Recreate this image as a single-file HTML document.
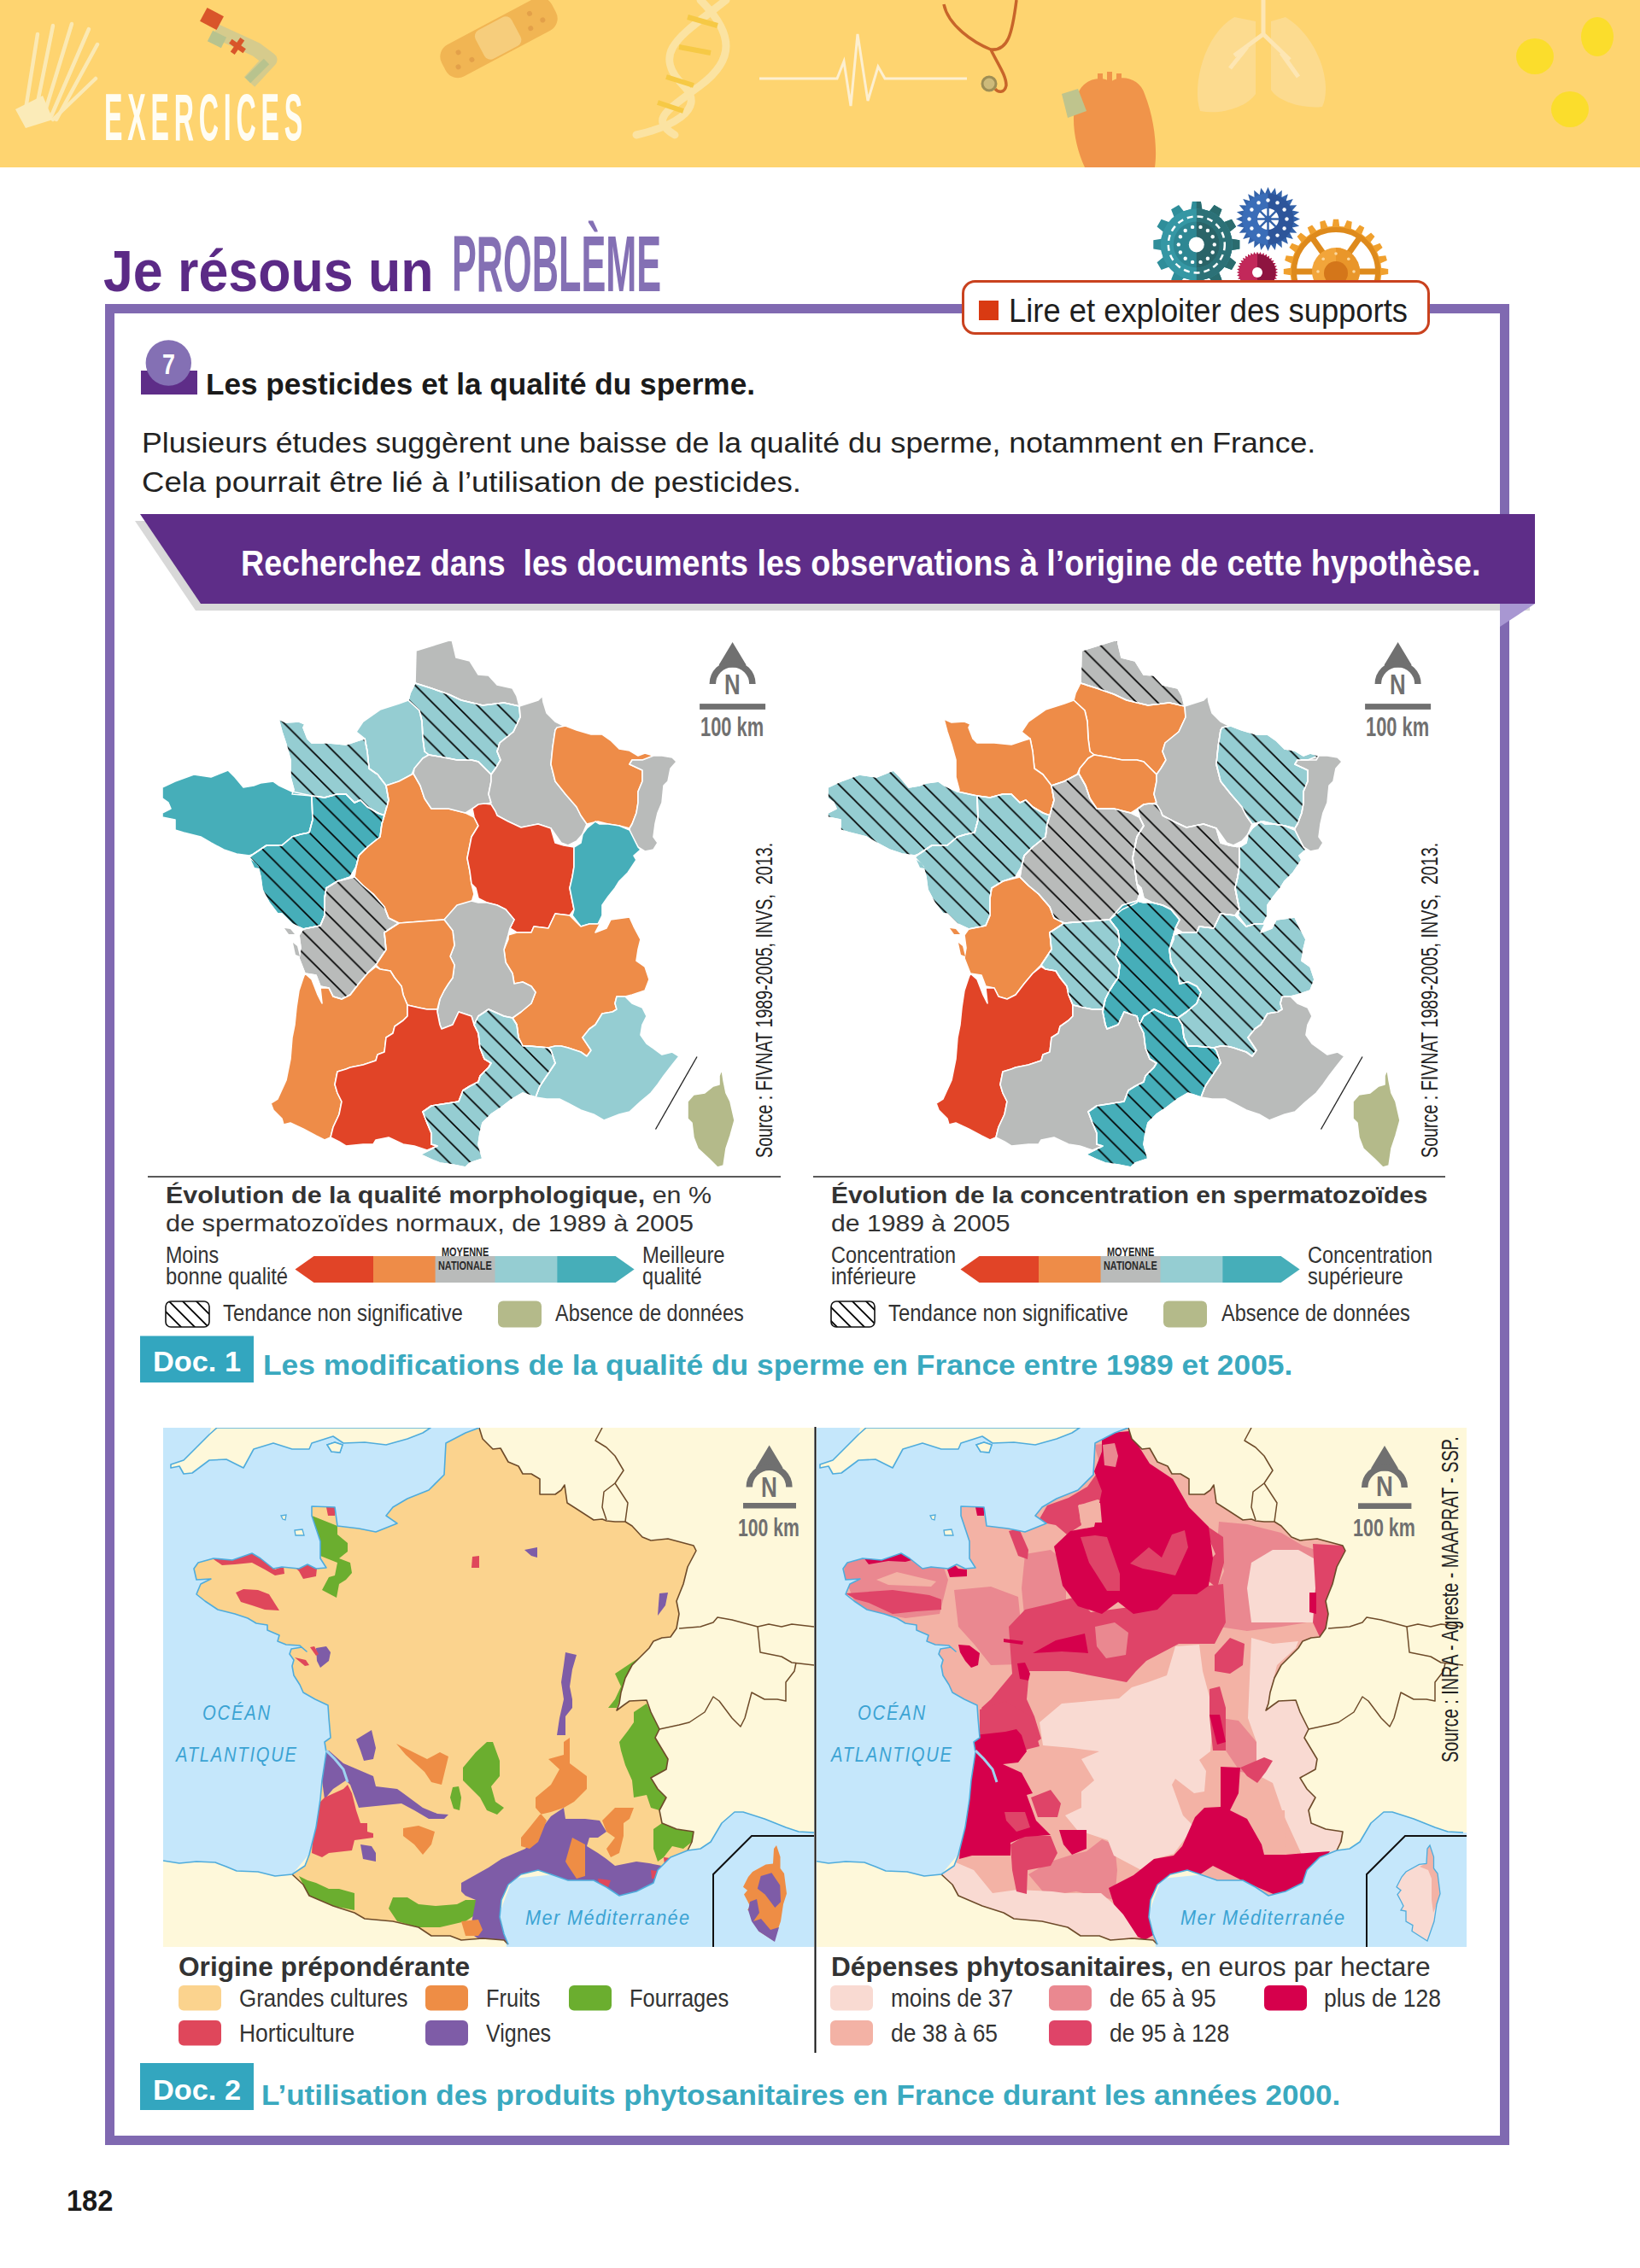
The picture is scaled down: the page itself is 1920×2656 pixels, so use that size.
<!DOCTYPE html><html><head><meta charset="utf-8"><style>
*{margin:0;padding:0;box-sizing:border-box}html,body{width:1920px;height:2656px;overflow:hidden;background:#fff}
body{position:relative;font-family:"Liberation Sans", sans-serif}
.t{position:absolute;white-space:nowrap;line-height:1;transform-origin:0 0}
.t span{display:inline-block}
.r{position:absolute;white-space:nowrap;line-height:1;transform-origin:0 0}
svg{position:absolute;left:0;top:0}
</style></head><body>
<svg width="1920" height="2656" viewBox="0 0 1920 2656">
<defs>
<pattern id="h1" patternUnits="userSpaceOnUse" width="24.7" height="24.7" patternTransform="translate(4.5,0)"><path d="M-3,-3 L27.7,27.7 M-3,21.7 L3,27.7 M21.7,-3 L27.7,3" stroke="#000" stroke-width="1.6"/></pattern>
<pattern id="h2" patternUnits="userSpaceOnUse" width="24.7" height="24.7" patternTransform="translate(14,0)"><path d="M-3,-3 L27.7,27.7 M-3,21.7 L3,27.7 M21.7,-3 L27.7,3" stroke="#000" stroke-width="1.6"/></pattern>
<pattern id="hl" patternUnits="userSpaceOnUse" width="16" height="16" patternTransform="translate(2,0)"><path d="M-2,-2 L18,18 M-2,14 L2,18 M14,-2 L18,2" stroke="#000" stroke-width="1.8"/></pattern>
<clipPath id="cm3"><rect x="191" y="1672" width="762" height="608"/></clipPath>
<clipPath id="cm4"><rect x="956" y="1672" width="761" height="608"/></clipPath>
</defs>
<rect x="0" y="0" width="1920" height="196" fill="#FED470"/>
<g stroke="#FBEBB8" stroke-width="4.5" stroke-linecap="round" fill="none" opacity="0.95">
<line x1="30" y1="128" x2="44" y2="40"/>
<line x1="42" y1="130" x2="62" y2="30"/>
<line x1="52" y1="133" x2="84" y2="28"/>
<line x1="60" y1="136" x2="104" y2="34"/>
<line x1="66" y1="140" x2="114" y2="52"/>
<line x1="62" y1="140" x2="112" y2="92"/>
</g>
<polygon points="18,128 50,112 62,140 30,150" fill="#FBEBB8"/>
<path d="M252,36 L300,58 L316,70 L292,96" fill="none" stroke="#D6CB8C" stroke-width="17" stroke-linejoin="round"/>
<path d="M246,42 L262,50" fill="none" stroke="#B8C38E" stroke-width="14"/>
<path d="M312,72 L290,94" fill="none" stroke="#B8C38E" stroke-width="9"/>
<g transform="translate(248,22) rotate(28)"><rect x="-11" y="-9" width="22" height="18" fill="#D9552A"/></g>
<g transform="translate(278,54) rotate(35)" fill="#D9552A"><rect x="-3" y="-10" width="6" height="20"/><rect x="-10" y="-3" width="20" height="6"/></g>
<g transform="translate(584,44) rotate(-28)"><rect x="-73" y="-21" width="146" height="42" rx="16" fill="#F1B553"/><rect x="-25" y="-19" width="48" height="38" rx="8" fill="#F6CD7C"/><g fill="#E3A049"><circle cx="-50" cy="-7" r="3"/><circle cx="-40" cy="8" r="3"/><circle cx="-58" cy="8" r="3"/><circle cx="45" cy="-8" r="3"/><circle cx="55" cy="6" r="3"/><circle cx="38" cy="8" r="3"/></g></g>
<g fill="none" stroke="#FBE3A2" stroke-width="9" stroke-linecap="round">
<path d="M850,0 C800,40 760,60 800,100 C830,130 780,150 745,158"/>
<path d="M820,0 C860,40 860,70 820,100 C780,130 760,140 790,158"/>
</g>
<g stroke="#F6C945" stroke-width="6"><line x1="805" y1="20" x2="840" y2="30"/><line x1="795" y1="55" x2="832" y2="62"/><line x1="780" y1="90" x2="812" y2="100"/><line x1="770" y1="120" x2="800" y2="130"/></g>
<polyline points="889,92 980,92 988,72 996,124 1004,40 1016,118 1028,78 1036,92 1132,92" fill="none" stroke="#FDEFD0" stroke-width="3"/>
<path d="M1105,5 C1110,30 1140,50 1160,58 C1180,60 1185,40 1190,0 M1160,58 C1168,75 1178,88 1178,100 C1176,110 1168,108 1165,104" fill="none" stroke="#C8652A" stroke-width="3.5"/>
<circle cx="1158" cy="98" r="8" fill="#CDBA7A" stroke="#9E8E55" stroke-width="3"/>
<path d="M1262,110 C1268,92 1290,88 1300,96 C1312,86 1335,92 1340,110 C1352,140 1355,175 1352,196 L1270,196 C1258,170 1252,135 1262,110 Z" fill="#F0944A"/>
<polygon points="1243,110 1262,104 1272,130 1250,138" fill="#BFC48D"/>
<g fill="#F0944A"><rect x="1285" y="86" width="6" height="14"/><rect x="1296" y="84" width="6" height="14"/><rect x="1307" y="86" width="6" height="14"/></g>
<path d="M1445,20 C1410,40 1395,100 1405,130 C1430,135 1460,125 1470,110 L1470,25 Z" fill="#FCDB8F"/>
<path d="M1505,20 C1545,45 1560,100 1548,125 C1525,128 1495,118 1488,105 L1488,25 Z" fill="#FCDB8F"/>
<path d="M1479,0 L1479,40 M1479,40 L1445,65 M1479,40 L1510,70 M1460,55 L1440,80 M1500,62 L1520,90" stroke="#FDE6B3" stroke-width="5" fill="none"/>
<g fill="#FBDD2C"><ellipse cx="1797" cy="66" rx="22" ry="21"/><ellipse cx="1870" cy="43" rx="19" ry="23"/><ellipse cx="1838" cy="128" rx="22" ry="21"/></g>
<polygon points="1617.1,313.8 1625.2,314.9 1625.2,321.1 1617.1,322.2 1616.4,327.7 1623.9,330.9 1622.3,336.8 1614.2,335.8 1612.1,340.9 1618.6,345.9 1615.5,351.3 1607.9,348.2 1604.6,352.6 1609.5,359.1 1605.1,363.5 1598.6,358.6 1594.2,361.9 1597.3,369.5 1591.9,372.6 1586.9,366.1 1581.8,368.2 1582.8,376.3 1576.9,377.9 1573.7,370.4 1568.2,371.1 1567.1,379.2 1560.9,379.2 1559.8,371.1 1554.3,370.4 1551.1,377.9 1545.2,376.3 1546.2,368.2 1541.1,366.1 1536.1,372.6 1530.7,369.5 1533.8,361.9 1529.4,358.6 1522.9,363.5 1518.5,359.1 1523.4,352.6 1520.1,348.2 1512.5,351.3 1509.4,345.9 1515.9,340.9 1513.8,335.8 1505.7,336.8 1504.1,330.9 1511.6,327.7 1510.9,322.2 1502.8,321.1 1502.8,314.9 1510.9,313.8 1511.6,308.3 1504.1,305.1 1505.7,299.2 1513.8,300.2 1515.9,295.1 1509.4,290.1 1512.5,284.7 1520.1,287.8 1523.4,283.4 1518.5,276.9 1522.9,272.5 1529.4,277.4 1533.8,274.1 1530.7,266.5 1536.1,263.4 1541.1,269.9 1546.2,267.8 1545.2,259.7 1551.1,258.1 1554.3,265.6 1559.8,264.9 1560.9,256.8 1567.1,256.8 1568.2,264.9 1573.7,265.6 1576.9,258.1 1582.8,259.7 1581.8,267.8 1586.9,269.9 1591.9,263.4 1597.3,266.5 1594.2,274.1 1598.6,277.4 1605.1,272.5 1609.5,276.9 1604.6,283.4 1607.9,287.8 1615.5,284.7 1618.6,290.1 1612.1,295.1 1614.2,300.2 1622.3,299.2 1623.9,305.1 1616.4,308.3" fill="#F0A02E"/>
<circle cx="1564" cy="318" r="47" fill="#fff"/>
<circle cx="1564" cy="318" r="49" fill="none" stroke="#DE8A1C" stroke-width="6"/>
<g stroke="#DE8A1C" stroke-width="7">
<line x1="1552.5" y1="301.6" x2="1537.0" y2="279.5"/>
<line x1="1575.5" y1="301.6" x2="1591.0" y2="279.5"/>
<line x1="1544.0" y1="318.0" x2="1517.0" y2="318.0"/>
<line x1="1584.0" y1="318.0" x2="1611.0" y2="318.0"/>
</g>
<circle cx="1564" cy="318" r="28" fill="#F2A53A"/>
<path d="M1564,290 A28,28 0 0 1 1564,346 Z" fill="#E9962A"/>
<circle cx="1564" cy="320" r="14" fill="#D4761A"/>
<circle cx="1585.0" cy="318.0" r="1.8" fill="#FBD9A0"/>
<circle cx="1578.8" cy="332.8" r="1.8" fill="#FBD9A0"/>
<circle cx="1564.0" cy="339.0" r="1.8" fill="#FBD9A0"/>
<circle cx="1549.2" cy="332.8" r="1.8" fill="#FBD9A0"/>
<circle cx="1543.0" cy="318.0" r="1.8" fill="#FBD9A0"/>
<circle cx="1549.2" cy="303.2" r="1.8" fill="#FBD9A0"/>
<circle cx="1564.0" cy="297.0" r="1.8" fill="#FBD9A0"/>
<circle cx="1578.8" cy="303.2" r="1.8" fill="#FBD9A0"/>
<polygon points="1442.1,279.8 1451.3,281.3 1451.3,291.5 1442.1,293.0 1439.8,301.3 1447.1,307.2 1442.0,316.1 1433.3,312.7 1427.1,318.9 1430.5,327.6 1421.6,332.7 1415.7,325.4 1407.4,327.7 1405.9,336.9 1395.7,336.9 1394.2,327.7 1385.9,325.4 1380.0,332.7 1371.1,327.6 1374.5,318.9 1368.3,312.7 1359.6,316.1 1354.5,307.2 1361.8,301.3 1359.5,293.0 1350.3,291.5 1350.3,281.3 1359.5,279.8 1361.8,271.5 1354.5,265.6 1359.6,256.7 1368.3,260.1 1374.5,253.9 1371.1,245.2 1380.0,240.1 1385.9,247.4 1394.2,245.1 1395.7,235.9 1405.9,235.9 1407.4,245.1 1415.7,247.4 1421.6,240.1 1430.5,245.2 1427.1,253.9 1433.3,260.1 1442.0,256.7 1447.1,265.6 1439.8,271.5" fill="#2F8E9A"/>
<clipPath id="tealR"><rect x="1400.8" y="220" width="60" height="130"/></clipPath>
<g clip-path="url(#tealR)"><polygon points="1442.1,279.8 1451.3,281.3 1451.3,291.5 1442.1,293.0 1439.8,301.3 1447.1,307.2 1442.0,316.1 1433.3,312.7 1427.1,318.9 1430.5,327.6 1421.6,332.7 1415.7,325.4 1407.4,327.7 1405.9,336.9 1395.7,336.9 1394.2,327.7 1385.9,325.4 1380.0,332.7 1371.1,327.6 1374.5,318.9 1368.3,312.7 1359.6,316.1 1354.5,307.2 1361.8,301.3 1359.5,293.0 1350.3,291.5 1350.3,281.3 1359.5,279.8 1361.8,271.5 1354.5,265.6 1359.6,256.7 1368.3,260.1 1374.5,253.9 1371.1,245.2 1380.0,240.1 1385.9,247.4 1394.2,245.1 1395.7,235.9 1405.9,235.9 1407.4,245.1 1415.7,247.4 1421.6,240.1 1430.5,245.2 1427.1,253.9 1433.3,260.1 1442.0,256.7 1447.1,265.6 1439.8,271.5" fill="#2A6B6E"/></g>
<circle cx="1400.8" cy="286.4" r="42" fill="#3597A4"/>
<path d="M1400.8,244.4 A42,42 0 0 1 1400.8,328.4 Z" fill="#2C7177"/>
<circle cx="1400.8" cy="286.4" r="33" fill="none" stroke="#fff" stroke-width="2.5" stroke-dasharray="7 5"/>
<circle cx="1400.8" cy="286.4" r="27" fill="#2E8793"/>
<path d="M1400.8,259.4 A27,27 0 0 1 1400.8,313.4 Z" fill="#2A6468"/>
<circle cx="1421.8" cy="286.4" r="2.2" fill="#fff"/>
<circle cx="1419.7" cy="295.5" r="2.2" fill="#fff"/>
<circle cx="1413.9" cy="302.8" r="2.2" fill="#fff"/>
<circle cx="1405.5" cy="306.9" r="2.2" fill="#fff"/>
<circle cx="1396.1" cy="306.9" r="2.2" fill="#fff"/>
<circle cx="1387.7" cy="302.8" r="2.2" fill="#fff"/>
<circle cx="1381.9" cy="295.5" r="2.2" fill="#fff"/>
<circle cx="1379.8" cy="286.4" r="2.2" fill="#fff"/>
<circle cx="1381.9" cy="277.3" r="2.2" fill="#fff"/>
<circle cx="1387.7" cy="270.0" r="2.2" fill="#fff"/>
<circle cx="1396.1" cy="265.9" r="2.2" fill="#fff"/>
<circle cx="1405.5" cy="265.9" r="2.2" fill="#fff"/>
<circle cx="1413.9" cy="270.0" r="2.2" fill="#fff"/>
<circle cx="1419.7" cy="277.3" r="2.2" fill="#fff"/>
<circle cx="1400.8" cy="286.4" r="9" fill="#fff"/>
<polygon points="1522.0,256.5 1514.3,259.9 1521.1,264.8 1512.8,266.4 1518.3,272.8 1509.9,272.5 1513.8,279.9 1505.7,277.7 1507.9,285.8 1500.5,281.9 1500.8,290.3 1494.4,284.8 1492.8,293.1 1487.9,286.3 1484.5,294.0 1481.1,286.3 1476.2,293.1 1474.6,284.8 1468.2,290.3 1468.5,281.9 1461.1,285.8 1463.3,277.7 1455.2,279.9 1459.1,272.5 1450.7,272.8 1456.2,266.4 1447.9,264.8 1454.7,259.9 1447.0,256.5 1454.7,253.1 1447.9,248.2 1456.2,246.6 1450.7,240.2 1459.1,240.5 1455.2,233.1 1463.3,235.3 1461.1,227.2 1468.5,231.1 1468.2,222.7 1474.6,228.2 1476.2,219.9 1481.1,226.7 1484.5,219.0 1487.9,226.7 1492.8,219.9 1494.4,228.2 1500.8,222.7 1500.5,231.1 1507.9,227.2 1505.7,235.3 1513.8,233.1 1509.9,240.5 1518.3,240.2 1512.8,246.6 1521.1,248.2 1514.3,253.1" fill="#3463AA"/>
<circle cx="1484.5" cy="256.5" r="30" fill="#3A6DB8"/>
<path d="M1484.5,226.5 A30,30 0 0 1 1484.5,286.5 Z" fill="#2D559A"/>
<circle cx="1506.5" cy="256.5" r="2.2" fill="#fff"/>
<circle cx="1503.6" cy="267.5" r="2.2" fill="#fff"/>
<circle cx="1495.5" cy="275.6" r="2.2" fill="#fff"/>
<circle cx="1484.5" cy="278.5" r="2.2" fill="#fff"/>
<circle cx="1473.5" cy="275.6" r="2.2" fill="#fff"/>
<circle cx="1465.4" cy="267.5" r="2.2" fill="#fff"/>
<circle cx="1462.5" cy="256.5" r="2.2" fill="#fff"/>
<circle cx="1465.4" cy="245.5" r="2.2" fill="#fff"/>
<circle cx="1473.5" cy="237.4" r="2.2" fill="#fff"/>
<circle cx="1484.5" cy="234.5" r="2.2" fill="#fff"/>
<circle cx="1495.5" cy="237.4" r="2.2" fill="#fff"/>
<circle cx="1503.6" cy="245.5" r="2.2" fill="#fff"/>
<circle cx="1484.5" cy="256.5" r="12.5" fill="#fff"/>
<g stroke="#3463AA" stroke-width="2.5">
<line x1="1471.5" y1="256.5" x2="1497.5" y2="256.5"/>
<line x1="1475.3" y1="247.3" x2="1493.7" y2="265.7"/>
<line x1="1484.5" y1="243.5" x2="1484.5" y2="269.5"/>
<line x1="1493.7" y1="247.3" x2="1475.3" y2="265.7"/>
</g><circle cx="1484.5" cy="256.5" r="4" fill="#3463AA"/>
<polygon points="1496.2,319.0 1492.9,320.6 1495.9,322.8 1492.4,323.9 1495.0,326.5 1491.4,327.0 1493.6,330.0 1489.9,330.0 1491.6,333.2 1488.0,332.6 1489.1,336.1 1485.6,335.0 1486.2,338.6 1483.0,336.9 1483.0,340.6 1480.0,338.4 1479.5,342.0 1476.9,339.4 1475.8,342.9 1473.6,339.9 1472.0,343.2 1470.4,339.9 1468.2,342.9 1467.1,339.4 1464.5,342.0 1464.0,338.4 1461.0,340.6 1461.0,336.9 1457.8,338.6 1458.4,335.0 1454.9,336.1 1456.0,332.6 1452.4,333.2 1454.1,330.0 1450.4,330.0 1452.6,327.0 1449.0,326.5 1451.6,323.9 1448.1,322.8 1451.1,320.6 1447.8,319.0 1451.1,317.4 1448.1,315.2 1451.6,314.1 1449.0,311.5 1452.6,311.0 1450.4,308.0 1454.1,308.0 1452.4,304.8 1456.0,305.4 1454.9,301.9 1458.4,303.0 1457.8,299.4 1461.0,301.1 1461.0,297.4 1464.0,299.6 1464.5,296.0 1467.1,298.6 1468.2,295.1 1470.4,298.1 1472.0,294.8 1473.6,298.1 1475.8,295.1 1476.9,298.6 1479.5,296.0 1480.0,299.6 1483.0,297.4 1483.0,301.1 1486.2,299.4 1485.6,303.0 1489.1,301.9 1488.0,305.4 1491.6,304.8 1489.9,308.0 1493.6,308.0 1491.4,311.0 1495.0,311.5 1492.4,314.1 1495.9,315.2 1492.9,317.4" fill="#B3204F"/>
<circle cx="1472" cy="319" r="21.5" fill="#C2285A"/>
<path d="M1472,297.5 A21.5,21.5 0 0 1 1472,340.5 Z" fill="#8E1440"/>
<circle cx="1472" cy="319" r="6" fill="#fff"/>
<rect x="128.5" y="361.5" width="1633" height="2145" fill="none" stroke="#8069B1" stroke-width="11"/>
<rect x="1127.5" y="329.5" width="545" height="61" rx="14" fill="#fff" stroke="#C9421F" stroke-width="3"/>
<rect x="1146" y="352" width="23" height="23" fill="#D93A12"/>
<rect x="165" y="434" width="66" height="28" fill="#5E2D88"/>
<circle cx="197.3" cy="425" r="26.7" fill="#8470B4"/>
<polygon points="158,610 1791,610 1791,715 229,715" fill="#D8D8D8"/>
<polygon points="164,602 1797,602 1797,707 235,707" fill="#5E2D88"/>
<polygon points="1756,707 1797,707 1756,734" fill="#A897D2"/>
<g>
<polygon points="487,762 529,749 534,770 550,774 560,790 572,791 582,802 600,806 605,815 608,827 590,823 565,826 540,820 525,813 505,806 486,800" fill="#B9BBBA" stroke="#fff" stroke-width="1.6" stroke-linejoin="round"/>
<polygon points="486,800 505,806 525,813 540,820 565,826 590,823 608,827 609,840 601,857 585,870 582,880 586,890 580,900 575,907 560,892 552,890 535,890 520,887 502,884 497,880 495,865 494,845 491,832 478,820 480,812" fill="#95CDD2" stroke="#fff" stroke-width="1.6" stroke-linejoin="round"/>
<polygon points="478,820 491,832 494,845 495,865 497,880 502,884 495,888 485,900 482,907 467,915 452,920 442,907 432,900 430,880 427,865 417,857 425,845 445,831 467,824" fill="#95CDD2" stroke="#fff" stroke-width="1.6" stroke-linejoin="round"/>
<polygon points="326,842 335,846 350,845 357,848 355,852 360,865 365,870 385,870 405,872 420,867 427,865 430,880 432,900 442,907 452,920 455,937 450,955 442,952 430,945 422,937 415,940 405,930 395,930 380,934 365,932 342,930 344,925 340,910 340,890 335,872 330,857" fill="#95CDD2" stroke="#fff" stroke-width="1.6" stroke-linejoin="round"/>
<polygon points="190,922 205,915 227,907 247,910 267,902 275,910 285,922 297,920 305,917 320,915 327,920 342,927 365,932 366,960 362,975 352,977 342,980 330,990 312,990 297,1000 292,1002 277,1000 262,995 247,987 235,980 215,975 205,972 205,960 190,957 190,952 200,947 197,940 190,935" fill="#46AEB9" stroke="#fff" stroke-width="1.6" stroke-linejoin="round"/>
<polygon points="365,932 380,934 395,930 405,930 415,940 422,937 430,945 442,952 450,955 447,965 445,980 430,992 420,1002 417,1015 410,1027 395,1032 382,1040 380,1052 380,1072 375,1084 355,1088 342,1082 330,1070 325,1070 315,1057 307,1042 305,1027 302,1015 292,1004 297,1000 312,990 330,990 342,980 352,977 362,975 366,960" fill="#46AEB9" stroke="#fff" stroke-width="1.6" stroke-linejoin="round"/>
<polygon points="382,1040 395,1032 415,1027 425,1037 437,1047 450,1062 455,1075 467,1081 450,1092 452,1112 440,1130 430,1140 420,1152 410,1165 400,1170 390,1167 385,1157 375,1155 370,1142 357,1140 350,1122 352,1110 350,1095 355,1088 375,1084 380,1072 380,1052" fill="#B9BBBA" stroke="#fff" stroke-width="1.6" stroke-linejoin="round"/>
<polygon points="452,920 467,915 482,907 484,906 492,920 497,935 505,947 525,947 545,952 555,957 560,967 552,980 550,990 547,1005 550,1020 552,1035 555,1047 552,1057 535,1065 520,1077 480,1080 467,1081 455,1075 450,1062 437,1047 425,1037 415,1027 417,1015 420,1002 430,992 445,980 447,965 450,955 455,937" fill="#EE8C48" stroke="#fff" stroke-width="1.6" stroke-linejoin="round"/>
<polygon points="502,884 520,887 535,890 552,890 560,892 575,907 575,915 572,930 575,940 557,945 553,947 545,952 525,947 505,947 497,935 492,920 484,906 485,900 495,888" fill="#B9BBBA" stroke="#fff" stroke-width="1.6" stroke-linejoin="round"/>
<polygon points="608,827 630,820 635,815 636,822 640,835 650,845 660,850 650,855 647,875 645,895 650,915 662,930 675,945 680,955 687,965 682,977 675,985 665,990 657,987 645,970 630,965 610,969 595,962 582,955 577,947 557,945 575,940 572,930 575,915 575,907 580,900 586,890 582,880 585,870 601,857 609,840" fill="#B9BBBA" stroke="#fff" stroke-width="1.6" stroke-linejoin="round"/>
<polygon points="652,852 662,850 675,855 692,860 705,860 715,867 725,877 737,879 747,885 755,882 765,885 762,890 752,890 740,890 737,895 752,902 752,915 747,927 747,940 745,952 740,965 737,970 725,967 712,965 700,962 687,965 680,955 675,945 662,930 650,915 645,895 647,875 650,855" fill="#EE8C48" stroke="#fff" stroke-width="1.6" stroke-linejoin="round"/>
<polygon points="740,890 752,890 765,885 775,885 787,887 792,892 785,900 782,915 777,920 775,940 770,952 767,965 765,980 770,987 765,995 755,997 747,992 737,975 737,970 740,965 745,952 747,940 747,927 752,915 752,902 737,895" fill="#B9BBBA" stroke="#fff" stroke-width="1.6" stroke-linejoin="round"/>
<polygon points="553,947 560,942 567,941 575,942 580,950 582,955 595,962 610,969 630,965 645,970 650,987 660,990 672,992 672,1015 670,1027 667,1040 672,1065 667,1072 650,1070 642,1087 625,1085 622,1092 605,1092 597,1087 602,1077 592,1065 582,1060 570,1057 560,1052 557,1040 552,1035 550,1020 547,1005 550,990 552,980 560,967 555,957" fill="#E14427" stroke="#fff" stroke-width="1.6" stroke-linejoin="round"/>
<polygon points="672,992 680,987 682,977 687,970 697,962 702,965 712,965 725,967 737,972 747,992 750,995 742,1002 745,1007 735,1022 725,1032 720,1040 712,1050 705,1060 705,1072 700,1082 690,1082 680,1085 670,1072 672,1065 667,1040 670,1027 672,1015" fill="#46AEB9" stroke="#fff" stroke-width="1.6" stroke-linejoin="round"/>
<polygon points="595,1095 605,1092 622,1092 625,1085 642,1087 650,1070 667,1072 680,1085 690,1082 700,1082 705,1077 697,1092 710,1087 715,1077 737,1074 742,1085 750,1100 747,1112 745,1125 755,1132 760,1147 755,1160 740,1165 732,1167 722,1167 720,1175 722,1182 717,1185 705,1187 697,1200 690,1205 682,1215 692,1230 687,1237 680,1232 665,1227 657,1225 650,1225 642,1227 620,1225 612,1225 607,1215 605,1200 600,1192 610,1185 622,1175 627,1162 622,1155 612,1150 602,1152 600,1140 592,1127 590,1112 595,1100" fill="#EE8C48" stroke="#fff" stroke-width="1.6" stroke-linejoin="round"/>
<polygon points="642,1227 650,1225 657,1225 665,1227 680,1232 687,1237 692,1230 682,1215 690,1205 697,1200 705,1187 717,1185 722,1182 720,1175 722,1167 732,1167 740,1175 752,1180 757,1190 752,1200 750,1212 757,1222 775,1235 787,1232 795,1237 787,1247 777,1260 770,1270 762,1280 750,1290 737,1302 725,1305 707,1312 695,1305 680,1300 665,1292 655,1287 640,1287 627,1285 632,1272 640,1260 650,1245 645,1230" fill="#95CDD2" stroke="#fff" stroke-width="1.6" stroke-linejoin="round"/>
<polygon points="520,1077 535,1060 552,1055 560,1057 570,1057 582,1060 592,1065 602,1077 597,1087 595,1095 590,1112 592,1127 600,1140 602,1152 612,1150 622,1155 627,1162 622,1175 610,1185 600,1192 590,1190 572,1182 560,1190 555,1200 552,1190 537,1185 530,1200 517,1205 515,1200 512,1185 515,1170 520,1160 525,1152 530,1145 532,1130 527,1120 532,1107 530,1090" fill="#B9BBBA" stroke="#fff" stroke-width="1.6" stroke-linejoin="round"/>
<polygon points="467,1081 480,1080 520,1077 530,1090 532,1107 527,1120 532,1130 530,1145 525,1152 520,1160 515,1170 512,1182 500,1182 490,1180 477,1177 472,1165 470,1155 462,1145 457,1137 445,1135 440,1130 452,1112 450,1092" fill="#EE8C48" stroke="#fff" stroke-width="1.6" stroke-linejoin="round"/>
<polygon points="400,1170 390,1167 385,1157 375,1157 377,1175 372,1165 365,1147 357,1140 355,1145 350,1160 347,1180 345,1200 342,1215 340,1240 335,1265 325,1287 317,1292 320,1300 330,1310 332,1317 340,1315 355,1322 370,1330 380,1335 387,1332 390,1320 397,1305 400,1290 395,1280 392,1270 395,1255 405,1252 410,1250 425,1247 440,1242 442,1235 450,1232 452,1215 460,1210 462,1202 472,1195 477,1190 477,1177 472,1165 470,1155 462,1145 457,1137 445,1135 440,1132 430,1140 420,1152 410,1165" fill="#EE8C48" stroke="#fff" stroke-width="1.6" stroke-linejoin="round"/>
<polygon points="387,1332 390,1320 397,1305 400,1290 395,1280 392,1270 395,1255 405,1252 410,1250 425,1247 440,1242 442,1235 450,1232 452,1215 460,1210 462,1202 472,1195 477,1190 477,1177 490,1180 500,1182 512,1182 512,1185 515,1200 517,1205 530,1200 537,1185 552,1190 555,1200 560,1210 562,1227 567,1240 575,1245 572,1250 562,1260 560,1267 550,1272 542,1277 537,1290 505,1295 495,1302 500,1315 505,1327 505,1340 512,1342 500,1347 485,1342 472,1340 455,1332 440,1335 437,1340 425,1340 405,1342 397,1337" fill="#E14427" stroke="#fff" stroke-width="1.6" stroke-linejoin="round"/>
<polygon points="555,1200 560,1190 572,1182 590,1190 600,1192 605,1200 607,1215 612,1225 620,1225 642,1227 645,1230 650,1245 640,1260 632,1272 627,1285 612,1280 600,1287 587,1297 575,1305 565,1315 562,1327 560,1340 565,1357 550,1362 545,1367 530,1364 515,1362 505,1358 492,1352 512,1342 505,1340 505,1327 500,1315 495,1302 505,1295 537,1290 542,1277 550,1272 560,1267 562,1260 572,1250 575,1245 567,1240 562,1227 560,1210" fill="#95CDD2" stroke="#fff" stroke-width="1.6" stroke-linejoin="round"/>
<polygon points="845,1252 847,1265 850,1280 855,1290 860,1312 855,1330 850,1345 847,1365 840,1367 830,1357 817,1345 812,1332 810,1315 805,1310 805,1290 812,1282 825,1280 835,1272 842,1270 842,1260" fill="#B4BA8A" stroke="#fff" stroke-width="1.6" stroke-linejoin="round"/>
<polygon points="486,800 505,806 525,813 540,820 565,826 590,823 608,827 609,840 601,857 585,870 582,880 586,890 580,900 575,907 560,892 552,890 535,890 520,887 502,884 497,880 495,865 494,845 491,832 478,820 480,812" fill="url(#h1)" stroke="#fff" stroke-width="1.6" stroke-linejoin="round"/>
<polygon points="326,842 335,846 350,845 357,848 355,852 360,865 365,870 385,870 405,872 420,867 427,865 430,880 432,900 442,907 452,920 455,937 450,955 442,952 430,945 422,937 415,940 405,930 395,930 380,934 365,932 342,930 344,925 340,910 340,890 335,872 330,857" fill="url(#h1)" stroke="#fff" stroke-width="1.6" stroke-linejoin="round"/>
<polygon points="365,932 380,934 395,930 405,930 415,940 422,937 430,945 442,952 450,955 447,965 445,980 430,992 420,1002 417,1015 410,1027 395,1032 382,1040 380,1052 380,1072 375,1084 355,1088 342,1082 330,1070 325,1070 315,1057 307,1042 305,1027 302,1015 292,1004 297,1000 312,990 330,990 342,980 352,977 362,975 366,960" fill="url(#h1)" stroke="#fff" stroke-width="1.6" stroke-linejoin="round"/>
<polygon points="382,1040 395,1032 415,1027 425,1037 437,1047 450,1062 455,1075 467,1081 450,1092 452,1112 440,1130 430,1140 420,1152 410,1165 400,1170 390,1167 385,1157 375,1155 370,1142 357,1140 350,1122 352,1110 350,1095 355,1088 375,1084 380,1072 380,1052" fill="url(#h1)" stroke="#fff" stroke-width="1.6" stroke-linejoin="round"/>
<polygon points="555,1200 560,1190 572,1182 590,1190 600,1192 605,1200 607,1215 612,1225 620,1225 642,1227 645,1230 650,1245 640,1260 632,1272 627,1285 612,1280 600,1287 587,1297 575,1305 565,1315 562,1327 560,1340 565,1357 550,1362 545,1367 530,1364 515,1362 505,1358 492,1352 512,1342 505,1340 505,1327 500,1315 495,1302 505,1295 537,1290 542,1277 550,1272 560,1267 562,1260 572,1250 575,1245 567,1240 562,1227 560,1210" fill="url(#h1)" stroke="#fff" stroke-width="1.6" stroke-linejoin="round"/>
<polygon points="333,1087 340,1088 345,1094 338,1094" fill="#B9BBBA"/>
<polygon points="343,1104 348,1108 351,1120 346,1118" fill="#B9BBBA"/>
<polygon points="294,1007 300,1011 304,1017 298,1016" fill="#46AEB9"/>
<line x1="816" y1="1237.5" x2="767.5" y2="1322.5" stroke="#222" stroke-width="1.3"/>
<path d="M857.6,752 L872.6,777 Q875.6,780 867.6,781.5 L847.6,781.5 Q839.6,780 842.6,777 Z" fill="#707070"/><path d="M834.3,801 A23.3,23.3 0 0 1 880.9,801" fill="none" stroke="#707070" stroke-width="7.5"/>
<rect x="819.1" y="824.1" width="77" height="6.8" fill="#707070"/>
</g>
<g>
<polygon points="1266,762 1308,749 1313,770 1329,774 1339,790 1351,791 1361,802 1379,806 1384,815 1387,827 1369,823 1344,826 1319,820 1304,813 1284,806 1265,800" fill="#B9BBBA" stroke="#fff" stroke-width="1.6" stroke-linejoin="round"/>
<polygon points="1265,800 1284,806 1304,813 1319,820 1344,826 1369,823 1387,827 1388,840 1380,857 1364,870 1361,880 1365,890 1359,900 1354,907 1339,892 1331,890 1314,890 1299,887 1281,884 1276,880 1274,865 1273,845 1270,832 1257,820 1259,812" fill="#EE8C48" stroke="#fff" stroke-width="1.6" stroke-linejoin="round"/>
<polygon points="1257,820 1270,832 1273,845 1274,865 1276,880 1281,884 1274,888 1264,900 1261,907 1246,915 1231,920 1221,907 1211,900 1209,880 1206,865 1196,857 1204,845 1224,831 1246,824" fill="#EE8C48" stroke="#fff" stroke-width="1.6" stroke-linejoin="round"/>
<polygon points="1105,842 1114,846 1129,845 1136,848 1134,852 1139,865 1144,870 1164,870 1184,872 1199,867 1206,865 1209,880 1211,900 1221,907 1231,920 1234,937 1229,955 1221,952 1209,945 1201,937 1194,940 1184,930 1174,930 1159,934 1144,932 1121,930 1123,925 1119,910 1119,890 1114,872 1109,857" fill="#EE8C48" stroke="#fff" stroke-width="1.6" stroke-linejoin="round"/>
<polygon points="969,922 984,915 1006,907 1026,910 1046,902 1054,910 1064,922 1076,920 1084,917 1099,915 1106,920 1121,927 1144,932 1145,960 1141,975 1131,977 1121,980 1109,990 1091,990 1076,1000 1071,1002 1056,1000 1041,995 1026,987 1014,980 994,975 984,972 984,960 969,957 969,952 979,947 976,940 969,935" fill="#95CDD2" stroke="#fff" stroke-width="1.6" stroke-linejoin="round"/>
<polygon points="1144,932 1159,934 1174,930 1184,930 1194,940 1201,937 1209,945 1221,952 1229,955 1226,965 1224,980 1209,992 1199,1002 1196,1015 1189,1027 1174,1032 1161,1040 1159,1052 1159,1072 1154,1084 1134,1088 1121,1082 1109,1070 1104,1070 1094,1057 1086,1042 1084,1027 1081,1015 1071,1004 1076,1000 1091,990 1109,990 1121,980 1131,977 1141,975 1145,960" fill="#95CDD2" stroke="#fff" stroke-width="1.6" stroke-linejoin="round"/>
<polygon points="1161,1040 1174,1032 1194,1027 1204,1037 1216,1047 1229,1062 1234,1075 1246,1081 1229,1092 1231,1112 1219,1130 1209,1140 1199,1152 1189,1165 1179,1170 1169,1167 1164,1157 1154,1155 1149,1142 1136,1140 1129,1122 1131,1110 1129,1095 1134,1088 1154,1084 1159,1072 1159,1052" fill="#EE8C48" stroke="#fff" stroke-width="1.6" stroke-linejoin="round"/>
<polygon points="1231,920 1246,915 1261,907 1263,906 1271,920 1276,935 1284,947 1304,947 1324,952 1334,957 1339,967 1331,980 1329,990 1326,1005 1329,1020 1331,1035 1334,1047 1331,1057 1314,1065 1299,1077 1259,1080 1246,1081 1234,1075 1229,1062 1216,1047 1204,1037 1194,1027 1196,1015 1199,1002 1209,992 1224,980 1226,965 1229,955 1234,937" fill="#B9BBBA" stroke="#fff" stroke-width="1.6" stroke-linejoin="round"/>
<polygon points="1281,884 1299,887 1314,890 1331,890 1339,892 1354,907 1354,915 1351,930 1354,940 1336,945 1332,947 1324,952 1304,947 1284,947 1276,935 1271,920 1263,906 1264,900 1274,888" fill="#EE8C48" stroke="#fff" stroke-width="1.6" stroke-linejoin="round"/>
<polygon points="1387,827 1409,820 1414,815 1415,822 1419,835 1429,845 1439,850 1429,855 1426,875 1424,895 1429,915 1441,930 1454,945 1459,955 1466,965 1461,977 1454,985 1444,990 1436,987 1424,970 1409,965 1389,969 1374,962 1361,955 1356,947 1336,945 1354,940 1351,930 1354,915 1354,907 1359,900 1365,890 1361,880 1364,870 1380,857 1388,840" fill="#B9BBBA" stroke="#fff" stroke-width="1.6" stroke-linejoin="round"/>
<polygon points="1431,852 1441,850 1454,855 1471,860 1484,860 1494,867 1504,877 1516,879 1526,885 1534,882 1544,885 1541,890 1531,890 1519,890 1516,895 1531,902 1531,915 1526,927 1526,940 1524,952 1519,965 1516,970 1504,967 1491,965 1479,962 1466,965 1459,955 1454,945 1441,930 1429,915 1424,895 1426,875 1429,855" fill="#95CDD2" stroke="#fff" stroke-width="1.6" stroke-linejoin="round"/>
<polygon points="1519,890 1531,890 1544,885 1554,885 1566,887 1571,892 1564,900 1561,915 1556,920 1554,940 1549,952 1546,965 1544,980 1549,987 1544,995 1534,997 1526,992 1516,975 1516,970 1519,965 1524,952 1526,940 1526,927 1531,915 1531,902 1516,895" fill="#B9BBBA" stroke="#fff" stroke-width="1.6" stroke-linejoin="round"/>
<polygon points="1332,947 1339,942 1346,941 1354,942 1359,950 1361,955 1374,962 1389,969 1409,965 1424,970 1429,987 1439,990 1451,992 1451,1015 1449,1027 1446,1040 1451,1065 1446,1072 1429,1070 1421,1087 1404,1085 1401,1092 1384,1092 1376,1087 1381,1077 1371,1065 1361,1060 1349,1057 1339,1052 1336,1040 1331,1035 1329,1020 1326,1005 1329,990 1331,980 1339,967 1334,957" fill="#B9BBBA" stroke="#fff" stroke-width="1.6" stroke-linejoin="round"/>
<polygon points="1451,992 1459,987 1461,977 1466,970 1476,962 1481,965 1491,965 1504,967 1516,972 1526,992 1529,995 1521,1002 1524,1007 1514,1022 1504,1032 1499,1040 1491,1050 1484,1060 1484,1072 1479,1082 1469,1082 1459,1085 1449,1072 1451,1065 1446,1040 1449,1027 1451,1015" fill="#95CDD2" stroke="#fff" stroke-width="1.6" stroke-linejoin="round"/>
<polygon points="1374,1095 1384,1092 1401,1092 1404,1085 1421,1087 1429,1070 1446,1072 1459,1085 1469,1082 1479,1082 1484,1077 1476,1092 1489,1087 1494,1077 1516,1074 1521,1085 1529,1100 1526,1112 1524,1125 1534,1132 1539,1147 1534,1160 1519,1165 1511,1167 1501,1167 1499,1175 1501,1182 1496,1185 1484,1187 1476,1200 1469,1205 1461,1215 1471,1230 1466,1237 1459,1232 1444,1227 1436,1225 1429,1225 1421,1227 1399,1225 1391,1225 1386,1215 1384,1200 1379,1192 1389,1185 1401,1175 1406,1162 1401,1155 1391,1150 1381,1152 1379,1140 1371,1127 1369,1112 1374,1100" fill="#95CDD2" stroke="#fff" stroke-width="1.6" stroke-linejoin="round"/>
<polygon points="1421,1227 1429,1225 1436,1225 1444,1227 1459,1232 1466,1237 1471,1230 1461,1215 1469,1205 1476,1200 1484,1187 1496,1185 1501,1182 1499,1175 1501,1167 1511,1167 1519,1175 1531,1180 1536,1190 1531,1200 1529,1212 1536,1222 1554,1235 1566,1232 1574,1237 1566,1247 1556,1260 1549,1270 1541,1280 1529,1290 1516,1302 1504,1305 1486,1312 1474,1305 1459,1300 1444,1292 1434,1287 1419,1287 1406,1285 1411,1272 1419,1260 1429,1245 1424,1230" fill="#B9BBBA" stroke="#fff" stroke-width="1.6" stroke-linejoin="round"/>
<polygon points="1299,1077 1314,1060 1331,1055 1339,1057 1349,1057 1361,1060 1371,1065 1381,1077 1376,1087 1374,1095 1369,1112 1371,1127 1379,1140 1381,1152 1391,1150 1401,1155 1406,1162 1401,1175 1389,1185 1379,1192 1369,1190 1351,1182 1339,1190 1334,1200 1331,1190 1316,1185 1309,1200 1296,1205 1294,1200 1291,1185 1294,1170 1299,1160 1304,1152 1309,1145 1311,1130 1306,1120 1311,1107 1309,1090" fill="#46AEB9" stroke="#fff" stroke-width="1.6" stroke-linejoin="round"/>
<polygon points="1246,1081 1259,1080 1299,1077 1309,1090 1311,1107 1306,1120 1311,1130 1309,1145 1304,1152 1299,1160 1294,1170 1291,1182 1279,1182 1269,1180 1256,1177 1251,1165 1249,1155 1241,1145 1236,1137 1224,1135 1219,1130 1231,1112 1229,1092" fill="#95CDD2" stroke="#fff" stroke-width="1.6" stroke-linejoin="round"/>
<polygon points="1179,1170 1169,1167 1164,1157 1154,1157 1156,1175 1151,1165 1144,1147 1136,1140 1134,1145 1129,1160 1126,1180 1124,1200 1121,1215 1119,1240 1114,1265 1104,1287 1096,1292 1099,1300 1109,1310 1111,1317 1119,1315 1134,1322 1149,1330 1159,1335 1166,1332 1169,1320 1176,1305 1179,1290 1174,1280 1171,1270 1174,1255 1184,1252 1189,1250 1204,1247 1219,1242 1221,1235 1229,1232 1231,1215 1239,1210 1241,1202 1251,1195 1256,1190 1256,1177 1251,1165 1249,1155 1241,1145 1236,1137 1224,1135 1219,1132 1209,1140 1199,1152 1189,1165" fill="#E14427" stroke="#fff" stroke-width="1.6" stroke-linejoin="round"/>
<polygon points="1166,1332 1169,1320 1176,1305 1179,1290 1174,1280 1171,1270 1174,1255 1184,1252 1189,1250 1204,1247 1219,1242 1221,1235 1229,1232 1231,1215 1239,1210 1241,1202 1251,1195 1256,1190 1256,1177 1269,1180 1279,1182 1291,1182 1291,1185 1294,1200 1296,1205 1309,1200 1316,1185 1331,1190 1334,1200 1339,1210 1341,1227 1346,1240 1354,1245 1351,1250 1341,1260 1339,1267 1329,1272 1321,1277 1316,1290 1284,1295 1274,1302 1279,1315 1284,1327 1284,1340 1291,1342 1279,1347 1264,1342 1251,1340 1234,1332 1219,1335 1216,1340 1204,1340 1184,1342 1176,1337" fill="#B9BBBA" stroke="#fff" stroke-width="1.6" stroke-linejoin="round"/>
<polygon points="1334,1200 1339,1190 1351,1182 1369,1190 1379,1192 1384,1200 1386,1215 1391,1225 1399,1225 1421,1227 1424,1230 1429,1245 1419,1260 1411,1272 1406,1285 1391,1280 1379,1287 1366,1297 1354,1305 1344,1315 1341,1327 1339,1340 1344,1357 1329,1362 1324,1367 1309,1364 1294,1362 1284,1358 1271,1352 1291,1342 1284,1340 1284,1327 1279,1315 1274,1302 1284,1295 1316,1290 1321,1277 1329,1272 1339,1267 1341,1260 1351,1250 1354,1245 1346,1240 1341,1227 1339,1210" fill="#46AEB9" stroke="#fff" stroke-width="1.6" stroke-linejoin="round"/>
<polygon points="1624,1252 1626,1265 1629,1280 1634,1290 1639,1312 1634,1330 1629,1345 1626,1365 1619,1367 1609,1357 1596,1345 1591,1332 1589,1315 1584,1310 1584,1290 1591,1282 1604,1280 1614,1272 1621,1270 1621,1260" fill="#B4BA8A" stroke="#fff" stroke-width="1.6" stroke-linejoin="round"/>
<polygon points="1266,762 1308,749 1313,770 1329,774 1339,790 1351,791 1361,802 1379,806 1384,815 1387,827 1369,823 1344,826 1319,820 1304,813 1284,806 1265,800" fill="url(#h2)" stroke="#fff" stroke-width="1.6" stroke-linejoin="round"/>
<polygon points="969,922 984,915 1006,907 1026,910 1046,902 1054,910 1064,922 1076,920 1084,917 1099,915 1106,920 1121,927 1144,932 1145,960 1141,975 1131,977 1121,980 1109,990 1091,990 1076,1000 1071,1002 1056,1000 1041,995 1026,987 1014,980 994,975 984,972 984,960 969,957 969,952 979,947 976,940 969,935" fill="url(#h2)" stroke="#fff" stroke-width="1.6" stroke-linejoin="round"/>
<polygon points="1144,932 1159,934 1174,930 1184,930 1194,940 1201,937 1209,945 1221,952 1229,955 1226,965 1224,980 1209,992 1199,1002 1196,1015 1189,1027 1174,1032 1161,1040 1159,1052 1159,1072 1154,1084 1134,1088 1121,1082 1109,1070 1104,1070 1094,1057 1086,1042 1084,1027 1081,1015 1071,1004 1076,1000 1091,990 1109,990 1121,980 1131,977 1141,975 1145,960" fill="url(#h2)" stroke="#fff" stroke-width="1.6" stroke-linejoin="round"/>
<polygon points="1231,920 1246,915 1261,907 1263,906 1271,920 1276,935 1284,947 1304,947 1324,952 1334,957 1339,967 1331,980 1329,990 1326,1005 1329,1020 1331,1035 1334,1047 1331,1057 1314,1065 1299,1077 1259,1080 1246,1081 1234,1075 1229,1062 1216,1047 1204,1037 1194,1027 1196,1015 1199,1002 1209,992 1224,980 1226,965 1229,955 1234,937" fill="url(#h2)" stroke="#fff" stroke-width="1.6" stroke-linejoin="round"/>
<polygon points="1431,852 1441,850 1454,855 1471,860 1484,860 1494,867 1504,877 1516,879 1526,885 1534,882 1544,885 1541,890 1531,890 1519,890 1516,895 1531,902 1531,915 1526,927 1526,940 1524,952 1519,965 1516,970 1504,967 1491,965 1479,962 1466,965 1459,955 1454,945 1441,930 1429,915 1424,895 1426,875 1429,855" fill="url(#h2)" stroke="#fff" stroke-width="1.6" stroke-linejoin="round"/>
<polygon points="1332,947 1339,942 1346,941 1354,942 1359,950 1361,955 1374,962 1389,969 1409,965 1424,970 1429,987 1439,990 1451,992 1451,1015 1449,1027 1446,1040 1451,1065 1446,1072 1429,1070 1421,1087 1404,1085 1401,1092 1384,1092 1376,1087 1381,1077 1371,1065 1361,1060 1349,1057 1339,1052 1336,1040 1331,1035 1329,1020 1326,1005 1329,990 1331,980 1339,967 1334,957" fill="url(#h2)" stroke="#fff" stroke-width="1.6" stroke-linejoin="round"/>
<polygon points="1451,992 1459,987 1461,977 1466,970 1476,962 1481,965 1491,965 1504,967 1516,972 1526,992 1529,995 1521,1002 1524,1007 1514,1022 1504,1032 1499,1040 1491,1050 1484,1060 1484,1072 1479,1082 1469,1082 1459,1085 1449,1072 1451,1065 1446,1040 1449,1027 1451,1015" fill="url(#h2)" stroke="#fff" stroke-width="1.6" stroke-linejoin="round"/>
<polygon points="1374,1095 1384,1092 1401,1092 1404,1085 1421,1087 1429,1070 1446,1072 1459,1085 1469,1082 1479,1082 1484,1077 1476,1092 1489,1087 1494,1077 1516,1074 1521,1085 1529,1100 1526,1112 1524,1125 1534,1132 1539,1147 1534,1160 1519,1165 1511,1167 1501,1167 1499,1175 1501,1182 1496,1185 1484,1187 1476,1200 1469,1205 1461,1215 1471,1230 1466,1237 1459,1232 1444,1227 1436,1225 1429,1225 1421,1227 1399,1225 1391,1225 1386,1215 1384,1200 1379,1192 1389,1185 1401,1175 1406,1162 1401,1155 1391,1150 1381,1152 1379,1140 1371,1127 1369,1112 1374,1100" fill="url(#h2)" stroke="#fff" stroke-width="1.6" stroke-linejoin="round"/>
<polygon points="1299,1077 1314,1060 1331,1055 1339,1057 1349,1057 1361,1060 1371,1065 1381,1077 1376,1087 1374,1095 1369,1112 1371,1127 1379,1140 1381,1152 1391,1150 1401,1155 1406,1162 1401,1175 1389,1185 1379,1192 1369,1190 1351,1182 1339,1190 1334,1200 1331,1190 1316,1185 1309,1200 1296,1205 1294,1200 1291,1185 1294,1170 1299,1160 1304,1152 1309,1145 1311,1130 1306,1120 1311,1107 1309,1090" fill="url(#h2)" stroke="#fff" stroke-width="1.6" stroke-linejoin="round"/>
<polygon points="1246,1081 1259,1080 1299,1077 1309,1090 1311,1107 1306,1120 1311,1130 1309,1145 1304,1152 1299,1160 1294,1170 1291,1182 1279,1182 1269,1180 1256,1177 1251,1165 1249,1155 1241,1145 1236,1137 1224,1135 1219,1130 1231,1112 1229,1092" fill="url(#h2)" stroke="#fff" stroke-width="1.6" stroke-linejoin="round"/>
<polygon points="1334,1200 1339,1190 1351,1182 1369,1190 1379,1192 1384,1200 1386,1215 1391,1225 1399,1225 1421,1227 1424,1230 1429,1245 1419,1260 1411,1272 1406,1285 1391,1280 1379,1287 1366,1297 1354,1305 1344,1315 1341,1327 1339,1340 1344,1357 1329,1362 1324,1367 1309,1364 1294,1362 1284,1358 1271,1352 1291,1342 1284,1340 1284,1327 1279,1315 1274,1302 1284,1295 1316,1290 1321,1277 1329,1272 1339,1267 1341,1260 1351,1250 1354,1245 1346,1240 1341,1227 1339,1210" fill="url(#h2)" stroke="#fff" stroke-width="1.6" stroke-linejoin="round"/>
<polygon points="1112,1087 1119,1088 1124,1094 1117,1094" fill="#EE8C48"/>
<polygon points="1122,1104 1127,1108 1130,1120 1125,1118" fill="#EE8C48"/>
<polygon points="1073,1007 1079,1011 1083,1017 1077,1016" fill="#95CDD2"/>
<line x1="1595" y1="1237.5" x2="1546.5" y2="1322.5" stroke="#222" stroke-width="1.3"/>
<path d="M1636.6,752 L1651.6,777 Q1654.6,780 1646.6,781.5 L1626.6,781.5 Q1618.6,780 1621.6,777 Z" fill="#707070"/><path d="M1613.3,801 A23.3,23.3 0 0 1 1659.9,801" fill="none" stroke="#707070" stroke-width="7.5"/>
<rect x="1598.1" y="824.1" width="77" height="6.8" fill="#707070"/>
</g>
<line x1="173" y1="1378" x2="914" y2="1378" stroke="#222" stroke-width="1.6"/>
<line x1="952" y1="1378" x2="1692" y2="1378" stroke="#222" stroke-width="1.6"/>
<polygon points="345.5,1486.5 367.5,1471 437,1471 437,1502 367.5,1502" fill="#E14427"/>
<rect x="437" y="1471" width="73.1" height="31" fill="#EE8C48"/>
<rect x="509.6" y="1471" width="70.4" height="31" fill="#B9BBBA"/>
<rect x="579.5" y="1471" width="73.3" height="31" fill="#95CDD2"/>
<polygon points="652.3,1471 720.6,1471 742.6,1486.5 720.6,1502 652.3,1502" fill="#46AEB9"/>
<rect x="194" y="1524" width="51" height="30" rx="6" fill="#fff"/>
<rect x="194" y="1524" width="51" height="30" rx="6" fill="url(#hl)" stroke="#111" stroke-width="1.6"/>
<rect x="583" y="1523.5" width="51" height="31" rx="6" fill="#B4BA8A"/>
<polygon points="1124.5,1486.5 1146.5,1471 1216,1471 1216,1502 1146.5,1502" fill="#E14427"/>
<rect x="1216" y="1471" width="73.1" height="31" fill="#EE8C48"/>
<rect x="1288.6" y="1471" width="70.4" height="31" fill="#B9BBBA"/>
<rect x="1358.5" y="1471" width="73.3" height="31" fill="#95CDD2"/>
<polygon points="1431.3,1471 1499.6,1471 1521.6,1486.5 1499.6,1502 1431.3,1502" fill="#46AEB9"/>
<rect x="973" y="1524" width="51" height="30" rx="6" fill="#fff"/>
<rect x="973" y="1524" width="51" height="30" rx="6" fill="url(#hl)" stroke="#111" stroke-width="1.6"/>
<rect x="1362" y="1523.5" width="51" height="31" rx="6" fill="#B4BA8A"/>
<rect x="164" y="1564.5" width="133" height="54.5" fill="#33A6BF"/>
<rect x="164" y="2416" width="133" height="55" fill="#33A6BF"/>
<g clip-path="url(#cm3)">
<rect x="189" y="1672" width="770" height="608" fill="#FEF8DA"/>
<polygon points="150,1660 250,1660 245,1680 230,1695 215,1710 200,1715 200,1719 210,1717 215,1726 225,1725 245,1710 265,1709 285,1719 297,1697 320,1690 342,1697 362,1697 365,1690 390,1682 402,1690 427,1689 452,1692 477,1685 495,1678 504,1672 504,1660 600,1660 561,1672 450,1900 380,2150 342,2195 342,2195 322,2197 302,2192 277,2191 265,2186 252,2181 230,2180 210,2182 191,2179 150,2179" fill="#C5E7FB"/>
<polygon points="805,2167 820,2165 832,2157 845,2135 860,2122 870,2122 895,2130 920,2140 935,2145 953,2146 980,2146 980,2300 597,2300 590,2265 585,2240 600,2200 700,2190" fill="#C5E7FB"/>
<polygon points="383,1692 392,1689 401,1692 398,1701 388,1700" fill="#C5E7FB" stroke="#4FACDC" stroke-width="1.5"/>
<polygon points="329,1775 335,1774 334,1780 331,1779" fill="#FEF8DA" stroke="#4FACDC" stroke-width="1.3"/>
<polygon points="345,1792 354,1791 356,1798 346,1798" fill="#FEF8DA" stroke="#4FACDC" stroke-width="1.3"/>
<polygon points="254,1672 504,1672 495,1678 477,1685 452,1692 427,1689 402,1690 390,1682 365,1690 362,1697 342,1697 320,1690 297,1697 285,1719 265,1709 245,1710 225,1725 215,1726 210,1717 200,1719 200,1715 215,1710 230,1695 245,1680" fill="#FEF8DA" stroke="#4FACDC" stroke-width="1.6" stroke-linejoin="round"/>
<polygon points="383,1692 392,1689 401,1692 398,1701 388,1700" fill="#FEF8DA" stroke="#4FACDC" stroke-width="1.5"/>
<clipPath id="fr0"><polygon points="561,1672 565,1685 577,1697 586,1696 595,1712 607,1717 612,1726 622,1726 632,1732 632,1750 650,1750 657,1745 661,1739 664,1760 675,1767 695,1780 705,1779 710,1781 720,1782 732,1782 740,1787 752,1800 762,1804 782,1802 812,1810 815,1816 805,1835 800,1855 792,1875 795,1890 792,1907 785,1917 775,1918 765,1922 760,1930 750,1940 740,1950 732,1965 727,1982 725,1995 722,2003 730,1997 737,1992 757,1991 762,2005 772,2025 767,2035 782,2060 780,2072 762,2082 770,2095 780,2105 772,2120 775,2135 792,2142 812,2145 810,2157 805,2167 785,2175 770,2190 765,2205 745,2215 725,2220 710,2210 695,2202 685,2202 665,2202 645,2195 630,2190 610,2195 595,2207 587,2225 585,2245 590,2265 595,2277 590,2272 565,2270 540,2272 527,2267 505,2267 490,2257 460,2250 427,2247 415,2240 390,2232 362,2220 355,2207 342,2195 357,2185 362,2172 370,2140 375,2107 377,2085 382,2052 380,2040 387,2035 385,2012 384,1997 369,1990 355,1982 351,1973 344,1962 342,1951 344,1944 339,1937 341,1931 353,1929 359,1934 351,1927 335,1926 325,1922 327,1915 313,1909 313,1903 300,1901 290,1895 275,1890 255,1885 240,1875 230,1867 232,1862 235,1855 247,1849 230,1850 227,1837 232,1830 250,1825 272,1827 295,1819 305,1825 320,1837 330,1835 350,1837 360,1832 370,1837 382,1836 375,1825 375,1805 365,1775 365,1764 392,1765 395,1787 420,1790 440,1794 465,1784 452,1775 460,1765 477,1755 502,1745 520,1727 522,1690 545,1678"/></clipPath>
<polygon points="561,1672 565,1685 577,1697 586,1696 595,1712 607,1717 612,1726 622,1726 632,1732 632,1750 650,1750 657,1745 661,1739 664,1760 675,1767 695,1780 705,1779 710,1781 720,1782 732,1782 740,1787 752,1800 762,1804 782,1802 812,1810 815,1816 805,1835 800,1855 792,1875 795,1890 792,1907 785,1917 775,1918 765,1922 760,1930 750,1940 740,1950 732,1965 727,1982 725,1995 722,2003 730,1997 737,1992 757,1991 762,2005 772,2025 767,2035 782,2060 780,2072 762,2082 770,2095 780,2105 772,2120 775,2135 792,2142 812,2145 810,2157 805,2167 785,2175 770,2190 765,2205 745,2215 725,2220 710,2210 695,2202 685,2202 665,2202 645,2195 630,2190 610,2195 595,2207 587,2225 585,2245 590,2265 595,2277 590,2272 565,2270 540,2272 527,2267 505,2267 490,2257 460,2250 427,2247 415,2240 390,2232 362,2220 355,2207 342,2195 357,2185 362,2172 370,2140 375,2107 377,2085 382,2052 380,2040 387,2035 385,2012 384,1997 369,1990 355,1982 351,1973 344,1962 342,1951 344,1944 339,1937 341,1931 353,1929 359,1934 351,1927 335,1926 325,1922 327,1915 313,1909 313,1903 300,1901 290,1895 275,1890 255,1885 240,1875 230,1867 232,1862 235,1855 247,1849 230,1850 227,1837 232,1830 250,1825 272,1827 295,1819 305,1825 320,1837 330,1835 350,1837 360,1832 370,1837 382,1836 375,1825 375,1805 365,1775 365,1764 392,1765 395,1787 420,1790 440,1794 465,1784 452,1775 460,1765 477,1755 502,1745 520,1727 522,1690 545,1678" fill="#FBD38E"/>
<g clip-path="url(#fr0)">
<polygon points="365,1775 395,1787 395,1797 407,1807 407,1817 397,1825 410,1830 412,1842 405,1850 397,1855 394,1871 377,1862 385,1847 392,1845 395,1830 375,1822 375,1805" fill="#6BAE2F"/>
<polygon points="557,2052 570,2040 577,2040 585,2062 585,2080 575,2092 580,2110 590,2117 582,2125 570,2120 562,2105 542,2085 542,2070" fill="#6BAE2F"/>
<polygon points="530,2093 537,2092 540,2105 538,2120 531,2118 527,2105" fill="#6BAE2F"/>
<polygon points="350,2197 360,2202 370,2205 385,2212 397,2212 415,2217 415,2237 390,2232 362,2220 355,2207" fill="#6BAE2F"/>
<polygon points="460,2222 477,2222 490,2230 510,2232 535,2230 545,2225 557,2225 557,2242 545,2250 515,2257 490,2257 465,2250 455,2235" fill="#6BAE2F"/>
<polygon points="767,1927 755,1937 735,1950 720,1960 727,1975 720,1990 712,2000 722,2000 732,1975 745,1950 760,1935" fill="#6BAE2F"/>
<polygon points="742,2005 757,1995 762,2005 772,2025 767,2035 782,2060 780,2072 762,2082 770,2095 780,2105 772,2120 762,2117 757,2102 742,2105 740,2085 732,2067 727,2050 725,2040 735,2027 742,2017" fill="#6BAE2F"/>
<polygon points="765,2142 775,2135 792,2142 812,2145 810,2157 800,2165 787,2162 777,2175 770,2180 765,2165" fill="#6BAE2F"/>
<polygon points="417,2037 435,2026 440,2047 437,2060 426,2062 422,2050" fill="#7E5CA7"/>
<polygon points="385,2050 402,2065 437,2080 440,2092 465,2095 472,2100 495,2117 512,2124 525,2125 520,2130 502,2130 485,2120 470,2112 440,2115 420,2117 410,2090 405,2085 390,2095 380,2107 377,2085 382,2052" fill="#7E5CA7"/>
<polygon points="422,2160 435,2162 440,2170 440,2180 425,2177" fill="#7E5CA7"/>
<polygon points="540,2205 572,2187 587,2177 615,2165 630,2147 645,2127 660,2117 662,2130 685,2130 702,2132 710,2145 700,2152 690,2152 687,2162 700,2170 710,2177 720,2185 745,2180 760,2182 775,2185 770,2195 765,2205 745,2215 725,2220 710,2210 695,2202 685,2202 665,2202 645,2195 630,2190 610,2195 595,2207 587,2225 585,2245 590,2265 595,2277 570,2277 555,2267 552,2252 557,2225 545,2220 540,2215" fill="#7E5CA7"/>
<polygon points="662,1935 675,1938 670,1955 667,1975 670,1990 670,2000 662,2010 662,2032 652,2032 655,2012 660,1990 657,1970 660,1950" fill="#7E5CA7"/>
<polygon points="614,1815 629,1812 629,1824 622,1822" fill="#7E5CA7"/>
<polygon points="772,1866 782,1865 779,1880 770,1892 771,1878" fill="#7E5CA7"/>
<polygon points="370,1930 382,1928 387,1935 385,1945 375,1953 371,1945" fill="#7E5CA7"/>
<polygon points="250,1826 272,1820 295,1817 310,1825 322,1838 332,1834 333,1843 322,1845 310,1838 295,1830 275,1832 260,1833" fill="#DF475B"/>
<polygon points="345,1835 360,1832 371,1837 370,1846 355,1849 350,1840" fill="#DF475B"/>
<polygon points="276,1865 285,1861 302,1862 315,1867 327,1886 310,1885 295,1880 282,1876" fill="#DF475B"/>
<polygon points="382,1765 392,1765 392,1775 384,1775" fill="#DF475B"/>
<polygon points="553,1823 561,1822 561,1836 552,1836" fill="#DF475B"/>
<polygon points="363,1929 368,1928 373,1937 370,1939" fill="#DF475B"/>
<polygon points="345,1941 358,1944 362,1950 357,1951" fill="#DF475B"/>
<polygon points="380,2105 402,2095 407,2090 412,2100 417,2120 422,2135 430,2135 430,2145 437,2147 437,2152 415,2155 412,2167 385,2170 377,2175 365,2170 367,2140 375,2110" fill="#DF475B"/>
<polygon points="700,2200 715,2202 712,2210 702,2208" fill="#DF475B"/>
<polygon points="762,2190 775,2192 772,2200 763,2200" fill="#DF475B"/>
<polygon points="777,2175 792,2177 790,2185 778,2185" fill="#DF475B"/>
<polygon points="464,2042 480,2050 500,2060 515,2052 525,2057 517,2090 505,2087 497,2075 475,2055" fill="#EE8D45"/>
<polygon points="472,2141 490,2138 509,2145 505,2160 495,2172 485,2160 472,2150" fill="#EE8D45"/>
<polygon points="642,2060 660,2055 660,2040 667,2035 667,2065 687,2080 687,2095 672,2110 660,2117 645,2122 632,2125 620,2140 610,2152 610,2162 620,2165 630,2157 640,2132 627,2117 627,2105 645,2090 655,2072" fill="#EE8D45"/>
<polygon points="705,2132 720,2117 742,2117 737,2130 730,2135 730,2150 725,2170 715,2175 710,2165 720,2152 710,2145" fill="#EE8D45"/>
<polygon points="662,2180 670,2152 685,2160 685,2197 675,2200 665,2185" fill="#EE8D45"/>
<polygon points="540,2250 560,2248 565,2260 560,2267 545,2267" fill="#EE8D45"/>
</g>
<polyline points="561,1672 565,1685 577,1697 586,1696 595,1712 607,1717 612,1726 622,1726 632,1732 632,1750 650,1750 657,1745 661,1739 664,1760 675,1767 695,1780 705,1779 710,1781 720,1782 732,1782 740,1787 752,1800 762,1804 782,1802 812,1810 815,1816 805,1835 800,1855 792,1875 795,1890 792,1907 785,1917 775,1918 765,1922 760,1930 750,1940 740,1950 732,1965 727,1982 725,1995 722,2003 730,1997 737,1992 757,1991 762,2005 772,2025 767,2035 782,2060 780,2072 762,2082 770,2095 780,2105 772,2120 775,2135 792,2142 812,2145 810,2157 805,2167" fill="none" stroke="#6E4B2A" stroke-width="1.6" stroke-linejoin="round"/>
<polyline points="595,2277 590,2272 565,2270 540,2272 527,2267 505,2267 490,2257 460,2250 427,2247 415,2240 390,2232 362,2220 355,2207 342,2195" fill="none" stroke="#6E4B2A" stroke-width="1.6" stroke-linejoin="round"/>
<polyline points="805,2167 785,2175 770,2190 765,2205 745,2215 725,2220 710,2210 695,2202 685,2202 665,2202 645,2195 630,2190 610,2195 595,2207 587,2225 585,2245 590,2265 595,2277" fill="none" stroke="#4FACDC" stroke-width="1.6" stroke-linejoin="round"/>
<polyline points="342,2195 357,2185 362,2172 370,2140 375,2107 377,2085 382,2052 380,2040 387,2035 385,2012 384,1997 369,1990 355,1982 351,1973 344,1962 342,1951 344,1944 339,1937 341,1931 353,1929 359,1934 351,1927 335,1926 325,1922 327,1915 313,1909 313,1903 300,1901 290,1895 275,1890 255,1885 240,1875 230,1867 232,1862 235,1855 247,1849 230,1850 227,1837 232,1830 250,1825 272,1827 295,1819 305,1825 320,1837 330,1835 350,1837 360,1832 370,1837 382,1836 375,1825 375,1805 365,1775 365,1764 392,1765 395,1787 420,1790 440,1794 465,1784 452,1775 460,1765 477,1755 502,1745 520,1727 522,1690 545,1678 561,1672" fill="none" stroke="#4FACDC" stroke-width="1.6" stroke-linejoin="round"/>
<polyline points="805,2167 820,2165 832,2157 845,2135 860,2122 870,2122 895,2130 920,2140 935,2145 953,2146" fill="none" stroke="#4FACDC" stroke-width="1.6" stroke-linejoin="round"/>
<polyline points="191,2179 210,2182 230,2180 252,2181 265,2186 277,2191 302,2192 322,2197 342,2195" fill="none" stroke="#4FACDC" stroke-width="1.6" stroke-linejoin="round"/>
<polyline points="705,1672 697,1687 710,1695 720,1705 730,1722 720,1737 707,1747 705,1765 710,1780" fill="none" stroke="#6E4B2A" stroke-width="1.5" stroke-linejoin="round"/>
<polyline points="720,1737 735,1760 732,1782" fill="none" stroke="#6E4B2A" stroke-width="1.5" stroke-linejoin="round"/>
<polyline points="795,1907 820,1905 835,1900 840,1894 857,1897 887,1905 900,1902 915,1905 927,1902 953,1905" fill="none" stroke="#6E4B2A" stroke-width="1.5" stroke-linejoin="round"/>
<polyline points="887,1905 890,1935 915,1940 927,1947 953,1950" fill="none" stroke="#6E4B2A" stroke-width="1.5" stroke-linejoin="round"/>
<polyline points="772,2025 795,2020 807,2017 825,2005 835,1987 842,1992 857,2012 867,2022 872,2012 880,1982 895,1990 910,1990 920,1992 920,1970 930,1957 932,1947" fill="none" stroke="#6E4B2A" stroke-width="1.5" stroke-linejoin="round"/>
<polyline points="382,2050 392,2060 402,2072 407,2087" fill="none" stroke="#9ED3F0" stroke-width="3"/>
<polygon points="835,2280 835,2195 880,2150 960,2150 960,2280" fill="#C5E7FB"/>
<polyline points="835,2282 835,2195 880,2150 960,2150" fill="none" stroke="#111" stroke-width="2"/>
<polygon points="909,2161 913.5,2174.6 913.5,2188 918,2194 921,2217.6 917,2230 914,2250 906,2273 888,2261.5 889,2254.6 881,2250 881,2238 875,2237 878,2232 875,2226 871,2218.5 875,2213.7 870,2209.8 876,2198 881,2192 896.5,2183.4 905,2182.4 906,2165" fill="#EE8D45"/>
<polygon points="886.8,2211.7 890.7,2197 903.4,2193.2 913.2,2207.8 914.1,2227.3 907.3,2234.1 895.6,2218.5" fill="#7E5CA7"/>
<polygon points="876,2237 878,2227 886,2224 889,2240 882,2250 891,2247 902,2260 912,2257 907,2274 888,2261.5 880,2250" fill="#7E5CA7"/>
</g>
<g clip-path="url(#cm4)">
<rect x="954" y="1672" width="770" height="608" fill="#FEF8DA"/>
<polygon points="910,1660 1010,1660 1005,1680 990,1695 975,1710 960,1715 960,1719 970,1717 975,1726 985,1725 1005,1710 1025,1709 1045,1719 1057,1697 1080,1690 1102,1697 1122,1697 1125,1690 1150,1682 1162,1690 1187,1689 1212,1692 1237,1685 1255,1678 1264,1672 1264,1660 1360,1660 1321,1672 1210,1900 1140,2150 1102,2195 1102,2195 1082,2197 1062,2192 1037,2191 1025,2186 1012,2181 990,2180 970,2182 951,2179 910,2179" fill="#C5E7FB"/>
<polygon points="1565,2167 1580,2165 1592,2157 1605,2135 1620,2122 1630,2122 1655,2130 1680,2140 1695,2145 1713,2146 1740,2146 1740,2300 1357,2300 1350,2265 1345,2240 1360,2200 1460,2190" fill="#C5E7FB"/>
<polygon points="1143,1692 1152,1689 1161,1692 1158,1701 1148,1700" fill="#C5E7FB" stroke="#4FACDC" stroke-width="1.5"/>
<polygon points="1089,1775 1095,1774 1094,1780 1091,1779" fill="#FEF8DA" stroke="#4FACDC" stroke-width="1.3"/>
<polygon points="1105,1792 1114,1791 1116,1798 1106,1798" fill="#FEF8DA" stroke="#4FACDC" stroke-width="1.3"/>
<polygon points="1014,1672 1264,1672 1255,1678 1237,1685 1212,1692 1187,1689 1162,1690 1150,1682 1125,1690 1122,1697 1102,1697 1080,1690 1057,1697 1045,1719 1025,1709 1005,1710 985,1725 975,1726 970,1717 960,1719 960,1715 975,1710 990,1695 1005,1680" fill="#FEF8DA" stroke="#4FACDC" stroke-width="1.6" stroke-linejoin="round"/>
<polygon points="1143,1692 1152,1689 1161,1692 1158,1701 1148,1700" fill="#FEF8DA" stroke="#4FACDC" stroke-width="1.5"/>
<clipPath id="fr760"><polygon points="1321,1672 1325,1685 1337,1697 1346,1696 1355,1712 1367,1717 1372,1726 1382,1726 1392,1732 1392,1750 1410,1750 1417,1745 1421,1739 1424,1760 1435,1767 1455,1780 1465,1779 1470,1781 1480,1782 1492,1782 1500,1787 1512,1800 1522,1804 1542,1802 1572,1810 1575,1816 1565,1835 1560,1855 1552,1875 1555,1890 1552,1907 1545,1917 1535,1918 1525,1922 1520,1930 1510,1940 1500,1950 1492,1965 1487,1982 1485,1995 1482,2003 1490,1997 1497,1992 1517,1991 1522,2005 1532,2025 1527,2035 1542,2060 1540,2072 1522,2082 1530,2095 1540,2105 1532,2120 1535,2135 1552,2142 1572,2145 1570,2157 1565,2167 1545,2175 1530,2190 1525,2205 1505,2215 1485,2220 1470,2210 1455,2202 1445,2202 1425,2202 1405,2195 1390,2190 1370,2195 1355,2207 1347,2225 1345,2245 1350,2265 1355,2277 1350,2272 1325,2270 1300,2272 1287,2267 1265,2267 1250,2257 1220,2250 1187,2247 1175,2240 1150,2232 1122,2220 1115,2207 1102,2195 1117,2185 1122,2172 1130,2140 1135,2107 1137,2085 1142,2052 1140,2040 1147,2035 1145,2012 1144,1997 1129,1990 1115,1982 1111,1973 1104,1962 1102,1951 1104,1944 1099,1937 1101,1931 1113,1929 1119,1934 1111,1927 1095,1926 1085,1922 1087,1915 1073,1909 1073,1903 1060,1901 1050,1895 1035,1890 1015,1885 1000,1875 990,1867 992,1862 995,1855 1007,1849 990,1850 987,1837 992,1830 1010,1825 1032,1827 1055,1819 1065,1825 1080,1837 1090,1835 1110,1837 1120,1832 1130,1837 1142,1836 1135,1825 1135,1805 1125,1775 1125,1764 1152,1765 1155,1787 1180,1790 1200,1794 1225,1784 1212,1775 1220,1765 1237,1755 1262,1745 1280,1727 1282,1690 1305,1678"/></clipPath>
<polygon points="1321,1672 1325,1685 1337,1697 1346,1696 1355,1712 1367,1717 1372,1726 1382,1726 1392,1732 1392,1750 1410,1750 1417,1745 1421,1739 1424,1760 1435,1767 1455,1780 1465,1779 1470,1781 1480,1782 1492,1782 1500,1787 1512,1800 1522,1804 1542,1802 1572,1810 1575,1816 1565,1835 1560,1855 1552,1875 1555,1890 1552,1907 1545,1917 1535,1918 1525,1922 1520,1930 1510,1940 1500,1950 1492,1965 1487,1982 1485,1995 1482,2003 1490,1997 1497,1992 1517,1991 1522,2005 1532,2025 1527,2035 1542,2060 1540,2072 1522,2082 1530,2095 1540,2105 1532,2120 1535,2135 1552,2142 1572,2145 1570,2157 1565,2167 1545,2175 1530,2190 1525,2205 1505,2215 1485,2220 1470,2210 1455,2202 1445,2202 1425,2202 1405,2195 1390,2190 1370,2195 1355,2207 1347,2225 1345,2245 1350,2265 1355,2277 1350,2272 1325,2270 1300,2272 1287,2267 1265,2267 1250,2257 1220,2250 1187,2247 1175,2240 1150,2232 1122,2220 1115,2207 1102,2195 1117,2185 1122,2172 1130,2140 1135,2107 1137,2085 1142,2052 1140,2040 1147,2035 1145,2012 1144,1997 1129,1990 1115,1982 1111,1973 1104,1962 1102,1951 1104,1944 1099,1937 1101,1931 1113,1929 1119,1934 1111,1927 1095,1926 1085,1922 1087,1915 1073,1909 1073,1903 1060,1901 1050,1895 1035,1890 1015,1885 1000,1875 990,1867 992,1862 995,1855 1007,1849 990,1850 987,1837 992,1830 1010,1825 1032,1827 1055,1819 1065,1825 1080,1837 1090,1835 1110,1837 1120,1832 1130,1837 1142,1836 1135,1825 1135,1805 1125,1775 1125,1764 1152,1765 1155,1787 1180,1790 1200,1794 1225,1784 1212,1775 1220,1765 1237,1755 1262,1745 1280,1727 1282,1690 1305,1678" fill="#F3B2A5"/>
<g clip-path="url(#fr760)">
<polygon points="989,1827 1010,1824 1058,1818 1080,1828 1105,1836 1110,1850 1105,1870 1100,1890 1060,1895 1022,1888 1000,1875 988,1845" fill="#EA8890"/>
<polygon points="1427,1782 1460,1785 1500,1795 1525,1810 1540,1815 1537,1870 1530,1900 1500,1905 1460,1910 1427,1905 1420,1870 1433,1840 1425,1810" fill="#EA8890"/>
<polygon points="1117,1862 1160,1858 1192,1870 1195,1900 1193,1949 1160,1950 1140,1925 1122,1905" fill="#EA8890"/>
<polygon points="1200,1820 1230,1815 1248,1830 1248,1880 1230,1900 1200,1902 1196,1860" fill="#EA8890"/>
<polygon points="1204,2195 1230,2180 1255,2172 1272,2168 1290,2154 1305,2160 1308,2190 1305,2225 1260,2215 1225,2220" fill="#EA8890"/>
<polygon points="1429,2012 1450,2015 1471,2040 1471,2078 1452,2075 1435,2050" fill="#EA8890"/>
<polygon points="1281,1692 1300,1690 1311,1700 1308,1716 1288,1716" fill="#EA8890"/>
<polygon points="1026,1850 1050,1841 1096,1852 1090,1858 1040,1856" fill="#F3B2A5"/>
<polygon points="1217,2017 1243,1995 1310,1989 1325,1976 1344,1970 1366,1962 1376,1928 1404,1926 1408,1957 1421,2006 1417,2051 1404,2061 1412,2074 1410,2098 1398,2100 1376,2083 1372,2090 1385,2126 1398,2139 1374,2171 1351,2177 1336,2190 1304,2173 1297,2155 1261,2143 1247,2126 1266,2117 1266,2098 1281,2085 1266,2060 1287,2051 1255,2047 1221,2044" fill="#F9DAD2"/>
<polygon points="1100,2192 1119,2181 1140,2190 1162,2217 1191,2213 1232,2215 1247,2217 1289,2217 1304,2230 1316,2242 1332,2268 1300,2272 1287,2267 1265,2267 1250,2257 1220,2250 1187,2247 1175,2240 1150,2232 1122,2220 1115,2207" fill="#F9DAD2"/>
<polygon points="1465,1918 1490,1925 1520,1922 1517,1930 1495,1950 1487,1982 1482,2003 1497,1992 1517,1991 1522,2005 1532,2025 1527,2035 1542,2060 1540,2072 1522,2082 1530,2095 1540,2105 1532,2120 1535,2135 1552,2142 1572,2145 1565,2167 1545,2175 1530,2185 1503,2126 1490,2088 1471,2078 1471,2040 1461,2012" fill="#F9DAD2"/>
<polygon points="1465,1830 1490,1815 1520,1815 1538,1825 1542,1860 1538,1900 1465,1900 1460,1860" fill="#F9DAD2"/>
<polygon points="1477,2120 1504,2120 1505,2170 1477,2170" fill="#F3B2A5"/>
<polygon points="1215,1782 1226,1763 1251,1754 1273,1741 1283,1727 1296,1744 1296,1760 1285,1756 1262,1763 1266,1786 1249,1797 1236,1786" fill="#DF4468"/>
<polygon points="990,1866 1045,1862 1088,1868 1102,1873 1102,1885 1073,1887 1045,1890 1017,1877 1002,1873" fill="#DF4468"/>
<polygon points="1181,1793 1193,1790 1204,1815 1203,1826 1192,1822" fill="#DF4468"/>
<polygon points="1181,1905 1200,1885 1230,1878 1260,1870 1277,1888 1323,1882 1330,1860 1353,1860 1406,1858 1432,1855 1435,1900 1422,1925 1380,1925 1342,1945 1330,1957 1319,1970 1251,1957 1205,1957 1202,1990 1211,2010 1219,2036 1202,2049 1180,2045 1160,2030 1149,2000 1160,1990 1185,1960 1183,1934" fill="#DF4468"/>
<polygon points="1282,1905 1305,1900 1321,1912 1318,1938 1295,1942 1284,1928" fill="#EA8890"/>
<polygon points="1147,2002 1177,1992 1207,2010 1217,2045 1197,2050 1169,2030 1147,2037" fill="#DF4468"/>
<polygon points="1183,2160 1200,2150 1230,2150 1238,2170 1230,2185 1203,2190 1202,2218 1190,2215 1185,2190" fill="#DF4468"/>
<polygon points="1537,1808 1572,1810 1575,1816 1565,1835 1560,1855 1552,1875 1555,1890 1552,1907 1545,1917 1537,1900 1540,1860" fill="#DF4468"/>
<polygon points="1422,1938 1440,1918 1457,1925 1455,1950 1440,1960 1422,1957" fill="#DF4468"/>
<polygon points="1416,1978 1428,1975 1435,2000 1435,2050 1420,2050 1416,2010" fill="#DF4468"/>
<polygon points="1377,1760 1389,1770 1410,1785 1432,1800 1433,1830 1425,1860 1413,1850 1413,1831 1423,1820 1415,1801 1404,1790 1389,1778" fill="#DF4468"/>
<polygon points="1452,2070 1480,2058 1490,2062 1482,2075 1472,2088 1460,2080" fill="#DF4468"/>
<polygon points="1290,1679 1322,1676 1346,1714 1373,1732 1392,1765 1415,1788 1420,1825 1415,1857 1401,1867 1373,1867 1355,1885 1327,1890 1309,1876 1290,1890 1262,1881 1244,1857 1234,1811 1253,1793 1281,1788 1290,1746 1281,1723 1290,1700" fill="#D6004C"/>
<polygon points="1263,1762 1288,1760 1290,1783 1265,1783" fill="#F3B2A5"/>
<polygon points="1291,1692 1305,1690 1309,1705 1306,1718 1293,1716" fill="#EA8890"/>
<polygon points="1323,1831 1345,1812 1360,1824 1372,1797 1387,1792 1391,1812 1376,1845 1349,1839 1338,1837" fill="#DF4468"/>
<polygon points="1265,1800 1282,1798 1296,1800 1311,1843 1311,1863 1296,1863 1275,1830" fill="#DF4468"/>
<polygon points="1011,1824 1035,1822 1058,1818 1071,1826 1060,1829 1040,1828 1017,1832" fill="#D6004C"/>
<polygon points="1109,1838 1118,1833 1122,1837 1132,1838 1132,1846 1112,1847" fill="#D6004C"/>
<polygon points="1142,1765 1152,1765 1152,1775 1144,1775" fill="#D6004C"/>
<polygon points="1122,1926 1135,1927 1147,1936 1145,1950 1137,1953 1130,1945 1124,1935" fill="#D6004C"/>
<polygon points="1191,1948 1200,1947 1206,1960 1204,1968 1194,1966" fill="#D6004C"/>
<polygon points="1209,1936 1236,1921 1270,1913 1274,1936 1243,1934" fill="#D6004C"/>
<polygon points="1175,1919 1198,1922 1197,1926 1175,1923" fill="#D6004C"/>
<polygon points="1141,2032 1177,2028 1190,2025 1196,2032 1202,2051 1192,2064 1174,2066 1196,2076 1209,2100 1202,2102 1213,2132 1230,2149 1200,2151 1183,2158 1183,2173 1138,2173 1123,2177 1128,2120 1138,2060" fill="#D6004C"/>
<polygon points="1176,2122 1200,2122 1206,2140 1190,2145 1178,2132" fill="#DF4468"/>
<polygon points="1207,2105 1230,2096 1242,2112 1238,2128 1215,2128" fill="#DF4468"/>
<polygon points="1240,2143 1272,2143 1272,2165 1255,2172 1245,2160" fill="#D6004C"/>
<polygon points="1298,2211 1327,2196 1351,2177 1374,2173 1384,2162 1399,2128 1410,2117 1429,2116 1429,2069 1452,2070 1450,2100 1440,2120 1460,2130 1477,2160 1480,2172 1505,2172 1530,2170 1557,2168 1540,2190 1525,2210 1500,2222 1460,2205 1450,2200 1420,2185 1405,2195 1380,2192 1360,2205 1348,2230 1352,2265 1340,2272 1332,2268 1315,2242 1304,2230" fill="#D6004C"/>
<polygon points="1416,2008 1428,2008 1435,2040 1425,2043" fill="#D6004C"/>
<polygon points="1533,1865 1541,1865 1541,1890 1533,1888" fill="#D6004C"/>
</g>
<polyline points="1321,1672 1325,1685 1337,1697 1346,1696 1355,1712 1367,1717 1372,1726 1382,1726 1392,1732 1392,1750 1410,1750 1417,1745 1421,1739 1424,1760 1435,1767 1455,1780 1465,1779 1470,1781 1480,1782 1492,1782 1500,1787 1512,1800 1522,1804 1542,1802 1572,1810 1575,1816 1565,1835 1560,1855 1552,1875 1555,1890 1552,1907 1545,1917 1535,1918 1525,1922 1520,1930 1510,1940 1500,1950 1492,1965 1487,1982 1485,1995 1482,2003 1490,1997 1497,1992 1517,1991 1522,2005 1532,2025 1527,2035 1542,2060 1540,2072 1522,2082 1530,2095 1540,2105 1532,2120 1535,2135 1552,2142 1572,2145 1570,2157 1565,2167" fill="none" stroke="#6E4B2A" stroke-width="1.6" stroke-linejoin="round"/>
<polyline points="1355,2277 1350,2272 1325,2270 1300,2272 1287,2267 1265,2267 1250,2257 1220,2250 1187,2247 1175,2240 1150,2232 1122,2220 1115,2207 1102,2195" fill="none" stroke="#6E4B2A" stroke-width="1.6" stroke-linejoin="round"/>
<polyline points="1565,2167 1545,2175 1530,2190 1525,2205 1505,2215 1485,2220 1470,2210 1455,2202 1445,2202 1425,2202 1405,2195 1390,2190 1370,2195 1355,2207 1347,2225 1345,2245 1350,2265 1355,2277" fill="none" stroke="#4FACDC" stroke-width="1.6" stroke-linejoin="round"/>
<polyline points="1102,2195 1117,2185 1122,2172 1130,2140 1135,2107 1137,2085 1142,2052 1140,2040 1147,2035 1145,2012 1144,1997 1129,1990 1115,1982 1111,1973 1104,1962 1102,1951 1104,1944 1099,1937 1101,1931 1113,1929 1119,1934 1111,1927 1095,1926 1085,1922 1087,1915 1073,1909 1073,1903 1060,1901 1050,1895 1035,1890 1015,1885 1000,1875 990,1867 992,1862 995,1855 1007,1849 990,1850 987,1837 992,1830 1010,1825 1032,1827 1055,1819 1065,1825 1080,1837 1090,1835 1110,1837 1120,1832 1130,1837 1142,1836 1135,1825 1135,1805 1125,1775 1125,1764 1152,1765 1155,1787 1180,1790 1200,1794 1225,1784 1212,1775 1220,1765 1237,1755 1262,1745 1280,1727 1282,1690 1305,1678 1321,1672" fill="none" stroke="#4FACDC" stroke-width="1.6" stroke-linejoin="round"/>
<polyline points="1565,2167 1580,2165 1592,2157 1605,2135 1620,2122 1630,2122 1655,2130 1680,2140 1695,2145 1713,2146" fill="none" stroke="#4FACDC" stroke-width="1.6" stroke-linejoin="round"/>
<polyline points="951,2179 970,2182 990,2180 1012,2181 1025,2186 1037,2191 1062,2192 1082,2197 1102,2195" fill="none" stroke="#4FACDC" stroke-width="1.6" stroke-linejoin="round"/>
<polyline points="1465,1672 1457,1687 1470,1695 1480,1705 1490,1722 1480,1737 1467,1747 1465,1765 1470,1780" fill="none" stroke="#6E4B2A" stroke-width="1.5" stroke-linejoin="round"/>
<polyline points="1480,1737 1495,1760 1492,1782" fill="none" stroke="#6E4B2A" stroke-width="1.5" stroke-linejoin="round"/>
<polyline points="1555,1907 1580,1905 1595,1900 1600,1894 1617,1897 1647,1905 1660,1902 1675,1905 1687,1902 1713,1905" fill="none" stroke="#6E4B2A" stroke-width="1.5" stroke-linejoin="round"/>
<polyline points="1647,1905 1650,1935 1675,1940 1687,1947 1713,1950" fill="none" stroke="#6E4B2A" stroke-width="1.5" stroke-linejoin="round"/>
<polyline points="1532,2025 1555,2020 1567,2017 1585,2005 1595,1987 1602,1992 1617,2012 1627,2022 1632,2012 1640,1982 1655,1990 1670,1990 1680,1992 1680,1970 1690,1957 1692,1947" fill="none" stroke="#6E4B2A" stroke-width="1.5" stroke-linejoin="round"/>
<polyline points="1142,2050 1152,2060 1162,2072 1167,2087" fill="none" stroke="#9ED3F0" stroke-width="3"/>
<polygon points="1600,2280 1600,2195 1645,2150 1725,2150 1725,2280" fill="#C5E7FB"/>
<polyline points="1600,2282 1600,2195 1645,2150 1725,2150" fill="none" stroke="#111" stroke-width="2"/>
<polygon points="1674,2161 1678.5,2174.6 1678.5,2188 1683,2194 1686,2217.6 1682,2230 1679,2250 1671,2273 1653,2261.5 1654,2254.6 1646,2250 1646,2238 1640,2237 1643,2232 1640,2226 1636,2218.5 1640,2213.7 1635,2209.8 1641,2198 1646,2192 1661.5,2183.4 1670,2182.4 1671,2165" fill="#F9DAD2"/>
<polygon points="1674,2161 1678.5,2174.6 1678.5,2188 1683,2194 1686,2217.6 1682,2230 1678,2240 1676,2225 1676,2200 1672,2190 1662,2186 1670,2182 1671,2165" fill="#F3B2A5"/>
<polygon points="1674,2161 1678.5,2174.6 1678.5,2188 1683,2194 1686,2217.6 1682,2230 1679,2250 1671,2273 1653,2261.5 1654,2254.6 1646,2250 1646,2238 1640,2237 1643,2232 1640,2226 1636,2218.5 1640,2213.7 1635,2209.8 1641,2198 1646,2192 1661.5,2183.4 1670,2182.4 1671,2165" fill="none" stroke="#4FACDC" stroke-width="1.3"/>
</g>
<line x1="954.5" y1="1671" x2="954.5" y2="2404" stroke="#111" stroke-width="2"/>
<path d="M900.6,1692.5 L915.6,1717.5 Q918.6,1720.5 910.6,1722 L890.6,1722 Q882.6,1720.5 885.6,1717.5 Z" fill="#707070"/><path d="M877.3,1741.5 A23.3,23.3 0 0 1 923.9,1741.5" fill="none" stroke="#707070" stroke-width="7.5"/>
<path d="M1621,1693 L1636,1718 Q1639,1721 1631,1722.5 L1611,1722.5 Q1603,1721 1606,1718 Z" fill="#707070"/><path d="M1597.7,1742 A23.3,23.3 0 0 1 1644.3,1742" fill="none" stroke="#707070" stroke-width="7.5"/>
<rect x="870" y="1760" width="62" height="6.5" fill="#707070"/>
<rect x="1590" y="1760.3" width="62.4" height="6.7" fill="#707070"/>
<rect x="209" y="2325" width="50" height="29.5" rx="6" fill="#FBD38E"/>
<rect x="498" y="2325" width="50" height="29.5" rx="6" fill="#EE8D45"/>
<rect x="666" y="2325" width="50" height="29.5" rx="6" fill="#6BAE2F"/>
<rect x="209" y="2366" width="50" height="29.5" rx="6" fill="#DF475B"/>
<rect x="498" y="2366" width="50" height="29.5" rx="6" fill="#7E5CA7"/>
<rect x="972" y="2325" width="50" height="29.5" rx="6" fill="#F9DAD2"/>
<rect x="1228" y="2325" width="50" height="29.5" rx="6" fill="#EA8890"/>
<rect x="1480" y="2325" width="50" height="29.5" rx="6" fill="#D6004C"/>
<rect x="972" y="2366" width="50" height="29.5" rx="6" fill="#F3B2A5"/>
<rect x="1228" y="2366" width="50" height="29.5" rx="6" fill="#DF4468"/>
</svg>
<div class="t" id="t_exer" style="left:122.0px;top:98.0px;font-size:78px;font-weight:bold;color:#FFFDF3;transform:scaleX(0.4125);letter-spacing:14px;"><span id="t_exer_i">EXERCICES</span></div>
<div class="t" id="t_je" style="left:121.0px;top:282.9px;font-size:68px;font-weight:bold;color:#5B2A86;transform:scaleX(0.9214);"><span id="t_je_i">Je résous un</span></div>
<div class="t" id="t_prob" style="left:529.0px;top:262.6px;font-size:92px;font-weight:bold;color:#8470B4;transform:scaleX(0.4702);"><span id="t_prob_i">PROBLÈME</span></div>
<div class="t" id="t_lire" style="left:1181.0px;top:345.4px;font-size:38px;font-weight:normal;color:#1E1E1E;transform:scaleX(0.9570);"><span id="t_lire_i">Lire et exploiter des supports</span></div>
<div class="t" id="t_7" style="left:189.6px;top:409.2px;font-size:34px;font-weight:bold;color:#FFFFFF;transform:scaleX(0.7895);"><span id="t_7_i">7</span></div>
<div class="t" id="t_les" style="left:241.0px;top:432.4px;font-size:35px;font-weight:bold;color:#1A1A1A;transform:scaleX(1.0047);"><span id="t_les_i">Les pesticides et la qualité du sperme.</span></div>
<div class="t" id="t_p1" style="left:166.0px;top:502.1px;font-size:33px;font-weight:normal;color:#222222;transform:scaleX(1.0810);"><span id="t_p1_i">Plusieurs études suggèrent une baisse de la qualité du sperme, notamment en France.</span></div>
<div class="t" id="t_p2" style="left:166.0px;top:548.1px;font-size:33px;font-weight:normal;color:#222222;transform:scaleX(1.1076);"><span id="t_p2_i">Cela pourrait être lié à l’utilisation de pesticides.</span></div>
<div class="t" id="t_band" style="left:282.0px;top:638.1px;font-size:43px;font-weight:bold;color:#FFFFFF;transform:scaleX(0.8752);"><span id="t_band_i">Recherchez dans&nbsp; les documents les observations à l’origine de cette hypothèse.</span></div>
<div class="t" id="t_l1a" style="left:194.0px;top:1386.3px;font-size:28px;font-weight:normal;color:#333333;transform:scaleX(1.0867);"><span id="t_l1a_i"><b>Évolution de la qualité morphologique,</b> en %</span></div>
<div class="t" id="t_l1b" style="left:194.0px;top:1419.3px;font-size:28px;font-weight:normal;color:#333333;transform:scaleX(1.0938);"><span id="t_l1b_i">de spermatozoïdes normaux, de 1989 à 2005</span></div>
<div class="t" id="t_l1c" style="left:194.0px;top:1457.1px;font-size:27px;font-weight:normal;color:#333333;transform:scaleX(0.8611);"><span id="t_l1c_i">Moins</span></div>
<div class="t" id="t_l1d" style="left:194.0px;top:1482.1px;font-size:27px;font-weight:normal;color:#333333;transform:scaleX(0.8827);"><span id="t_l1d_i">bonne qualité</span></div>
<div class="t" id="t_l1e" style="left:752.0px;top:1457.1px;font-size:27px;font-weight:normal;color:#333333;transform:scaleX(0.8818);"><span id="t_l1e_i">Meilleure</span></div>
<div class="t" id="t_l1f" style="left:752.0px;top:1482.1px;font-size:27px;font-weight:normal;color:#333333;transform:scaleX(0.8750);"><span id="t_l1f_i">qualité</span></div>
<div class="t" id="t_l1g" style="left:261.0px;top:1525.1px;font-size:27px;font-weight:normal;color:#333333;transform:scaleX(0.8864);"><span id="t_l1g_i">Tendance non significative</span></div>
<div class="t" id="t_l1h" style="left:650.0px;top:1525.1px;font-size:27px;font-weight:normal;color:#333333;transform:scaleX(0.8701);"><span id="t_l1h_i">Absence de données</span></div>
<div class="t" id="t_l2a" style="left:973.0px;top:1386.3px;font-size:28px;font-weight:normal;color:#333333;transform:scaleX(1.0689);"><span id="t_l2a_i"><b>Évolution de la concentration en spermatozoïdes</b></span></div>
<div class="t" id="t_l2b" style="left:973.0px;top:1419.3px;font-size:28px;font-weight:normal;color:#333333;transform:scaleX(1.0769);"><span id="t_l2b_i">de 1989 à 2005</span></div>
<div class="t" id="t_l2c" style="left:973.0px;top:1457.1px;font-size:27px;font-weight:normal;color:#333333;transform:scaleX(0.8690);"><span id="t_l2c_i">Concentration</span></div>
<div class="t" id="t_l2d" style="left:973.0px;top:1482.1px;font-size:27px;font-weight:normal;color:#333333;transform:scaleX(0.8850);"><span id="t_l2d_i">inférieure</span></div>
<div class="t" id="t_l2e" style="left:1531.0px;top:1457.1px;font-size:27px;font-weight:normal;color:#333333;transform:scaleX(0.8690);"><span id="t_l2e_i">Concentration</span></div>
<div class="t" id="t_l2f" style="left:1531.0px;top:1482.1px;font-size:27px;font-weight:normal;color:#333333;transform:scaleX(0.8750);"><span id="t_l2f_i">supérieure</span></div>
<div class="t" id="t_l2g" style="left:1040.0px;top:1525.1px;font-size:27px;font-weight:normal;color:#333333;transform:scaleX(0.8864);"><span id="t_l2g_i">Tendance non significative</span></div>
<div class="t" id="t_l2h" style="left:1430.0px;top:1525.1px;font-size:27px;font-weight:normal;color:#333333;transform:scaleX(0.8701);"><span id="t_l2h_i">Absence de données</span></div>
<div class="t" id="t_doc1" style="left:178.5px;top:1577.9px;font-size:33px;font-weight:bold;color:#FFFFFF;transform:scaleX(1.0404);"><span id="t_doc1_i">Doc. 1</span></div>
<div class="t" id="t_cap1" style="left:307.5px;top:1582.1px;font-size:33px;font-weight:bold;color:#3AA9BF;transform:scaleX(1.0721);"><span id="t_cap1_i">Les modifications de la qualité du sperme en France entre 1989 et 2005.</span></div>
<div class="t" id="t_b1a" style="left:209.0px;top:2287.8px;font-size:31px;font-weight:bold;color:#333333;transform:scaleX(1.0210);"><span id="t_b1a_i">Origine prépondérante</span></div>
<div class="t" id="t_b1b" style="left:279.5px;top:2326.0px;font-size:29px;font-weight:normal;color:#333333;transform:scaleX(0.8937);"><span id="t_b1b_i">Grandes cultures</span></div>
<div class="t" id="t_b1c" style="left:569.0px;top:2326.0px;font-size:29px;font-weight:normal;color:#333333;transform:scaleX(0.8767);"><span id="t_b1c_i">Fruits</span></div>
<div class="t" id="t_b1d" style="left:737.0px;top:2326.0px;font-size:29px;font-weight:normal;color:#333333;transform:scaleX(0.8788);"><span id="t_b1d_i">Fourrages</span></div>
<div class="t" id="t_b1e" style="left:279.5px;top:2366.5px;font-size:29px;font-weight:normal;color:#333333;transform:scaleX(0.9122);"><span id="t_b1e_i">Horticulture</span></div>
<div class="t" id="t_b1f" style="left:569.0px;top:2366.5px;font-size:29px;font-weight:normal;color:#333333;transform:scaleX(0.8636);"><span id="t_b1f_i">Vignes</span></div>
<div class="t" id="t_b2a" style="left:973.0px;top:2287.8px;font-size:31px;font-weight:normal;color:#333333;transform:scaleX(1.0203);"><span id="t_b2a_i"><b>Dépenses phytosanitaires,</b> en euros par hectare</span></div>
<div class="t" id="t_b2b" style="left:1043.0px;top:2326.0px;font-size:29px;font-weight:normal;color:#333333;transform:scaleX(0.9051);"><span id="t_b2b_i">moins de 37</span></div>
<div class="t" id="t_b2c" style="left:1298.5px;top:2326.0px;font-size:29px;font-weight:normal;color:#333333;transform:scaleX(0.9088);"><span id="t_b2c_i">de 65 à 95</span></div>
<div class="t" id="t_b2d" style="left:1550.0px;top:2326.0px;font-size:29px;font-weight:normal;color:#333333;transform:scaleX(0.9133);"><span id="t_b2d_i">plus de 128</span></div>
<div class="t" id="t_b2e" style="left:1043.0px;top:2366.5px;font-size:29px;font-weight:normal;color:#333333;transform:scaleX(0.9124);"><span id="t_b2e_i">de 38 à 65</span></div>
<div class="t" id="t_b2f" style="left:1298.5px;top:2366.5px;font-size:29px;font-weight:normal;color:#333333;transform:scaleX(0.9150);"><span id="t_b2f_i">de 95 à 128</span></div>
<div class="t" id="t_doc2" style="left:178.5px;top:2430.6px;font-size:33px;font-weight:bold;color:#FFFFFF;transform:scaleX(1.0404);"><span id="t_doc2_i">Doc. 2</span></div>
<div class="t" id="t_cap2" style="left:306.0px;top:2437.1px;font-size:33px;font-weight:bold;color:#3AA9BF;transform:scaleX(1.0613);"><span id="t_cap2_i">L’utilisation des produits phytosanitaires en France durant les années 2000.</span></div>
<div class="t" id="t_182" style="left:78.0px;top:2559.4px;font-size:35px;font-weight:bold;color:#1A1A1A;transform:scaleX(0.9310);"><span id="t_182_i">182</span></div>
<div class="t" id="t_oc1" style="left:237.0px;top:1994.5px;font-size:23px;font-weight:normal;color:#3BA3D3;transform:scaleX(0.8804);font-style:italic;letter-spacing:2px;"><span id="t_oc1_i">OCÉAN</span></div>
<div class="t" id="t_at1" style="left:206.0px;top:2043.5px;font-size:23px;font-weight:normal;color:#3BA3D3;transform:scaleX(0.8773);font-style:italic;letter-spacing:2px;"><span id="t_at1_i">ATLANTIQUE</span></div>
<div class="t" id="t_me1" style="left:615.0px;top:2234.5px;font-size:23px;font-weight:normal;color:#3BA3D3;transform:scaleX(0.9417);font-style:italic;letter-spacing:1.5px;"><span id="t_me1_i">Mer Méditerranée</span></div>
<div class="t" id="t_oc2" style="left:1004.0px;top:1994.5px;font-size:23px;font-weight:normal;color:#3BA3D3;transform:scaleX(0.8804);font-style:italic;letter-spacing:2px;"><span id="t_oc2_i">OCÉAN</span></div>
<div class="t" id="t_at2" style="left:973.0px;top:2043.5px;font-size:23px;font-weight:normal;color:#3BA3D3;transform:scaleX(0.8773);font-style:italic;letter-spacing:2px;"><span id="t_at2_i">ATLANTIQUE</span></div>
<div class="t" id="t_me2" style="left:1382.0px;top:2234.5px;font-size:23px;font-weight:normal;color:#3BA3D3;transform:scaleX(0.9417);font-style:italic;letter-spacing:1.5px;"><span id="t_me2_i">Mer Méditerranée</span></div>
<div class="t" id="t_km1" style="left:820.0px;top:835.8px;font-size:31px;font-weight:bold;color:#707070;transform:scaleX(0.7048);"><span id="t_km1_i">100 km</span></div>
<div class="t" id="t_km2" style="left:1599.0px;top:835.8px;font-size:31px;font-weight:bold;color:#707070;transform:scaleX(0.7048);"><span id="t_km2_i">100 km</span></div>
<div class="t" id="t_km3" style="left:864.0px;top:1773.6px;font-size:30px;font-weight:bold;color:#707070;transform:scaleX(0.7059);"><span id="t_km3_i">100 km</span></div>
<div class="t" id="t_km4" style="left:1584.0px;top:1773.6px;font-size:30px;font-weight:bold;color:#707070;transform:scaleX(0.7157);"><span id="t_km4_i">100 km</span></div>
<div class="t" id="t_n1" style="left:847.8px;top:784.1px;font-size:34px;font-weight:bold;color:#707070;transform:scaleX(0.7600);"><span id="t_n1_i">N</span></div>
<div class="t" id="t_n2" style="left:1626.8px;top:784.1px;font-size:34px;font-weight:bold;color:#707070;transform:scaleX(0.7600);"><span id="t_n2_i">N</span></div>
<div class="t" id="t_n3" style="left:891.0px;top:1724.6px;font-size:33px;font-weight:bold;color:#707070;transform:scaleX(0.7917);"><span id="t_n3_i">N</span></div>
<div class="t" id="t_n4" style="left:1610.6px;top:1724.1px;font-size:33px;font-weight:bold;color:#707070;transform:scaleX(0.8333);"><span id="t_n4_i">N</span></div>
<div class="t" id="t_my1" style="left:516.8px;top:1458.9px;font-size:14px;font-weight:bold;color:#2A2A2A;transform:scaleX(0.7803);"><span id="t_my1_i">MOYENNE</span></div>
<div class="t" id="t_na1" style="left:512.8px;top:1474.6px;font-size:14px;font-weight:bold;color:#2A2A2A;transform:scaleX(0.7778);"><span id="t_na1_i">NATIONALE</span></div>
<div class="t" id="t_my2" style="left:1295.8px;top:1458.9px;font-size:14px;font-weight:bold;color:#2A2A2A;transform:scaleX(0.7803);"><span id="t_my2_i">MOYENNE</span></div>
<div class="t" id="t_na2" style="left:1291.8px;top:1474.6px;font-size:14px;font-weight:bold;color:#2A2A2A;transform:scaleX(0.7778);"><span id="t_na2_i">NATIONALE</span></div>
<div class="r" id="r_s1" style="left:881.6px;top:1356.0px;font-size:27px;color:#222222;transform:rotate(-90deg) scaleX(0.7292);"><span id="r_s1_i">Source : FIVNAT 1989-2005, INVS,&nbsp; 2013.</span></div>
<div class="r" id="r_s2" style="left:1660.6px;top:1356.0px;font-size:27px;color:#222222;transform:rotate(-90deg) scaleX(0.7292);"><span id="r_s2_i">Source : FIVNAT 1989-2005, INVS,&nbsp; 2013.</span></div>
<div class="r" id="r_s3" style="left:1685.1px;top:2064.0px;font-size:27px;color:#222222;transform:rotate(-90deg) scaleX(0.7332);"><span id="r_s3_i">Source : INRA - Agreste - MAAPRAT - SSP.</span></div>
</body></html>
